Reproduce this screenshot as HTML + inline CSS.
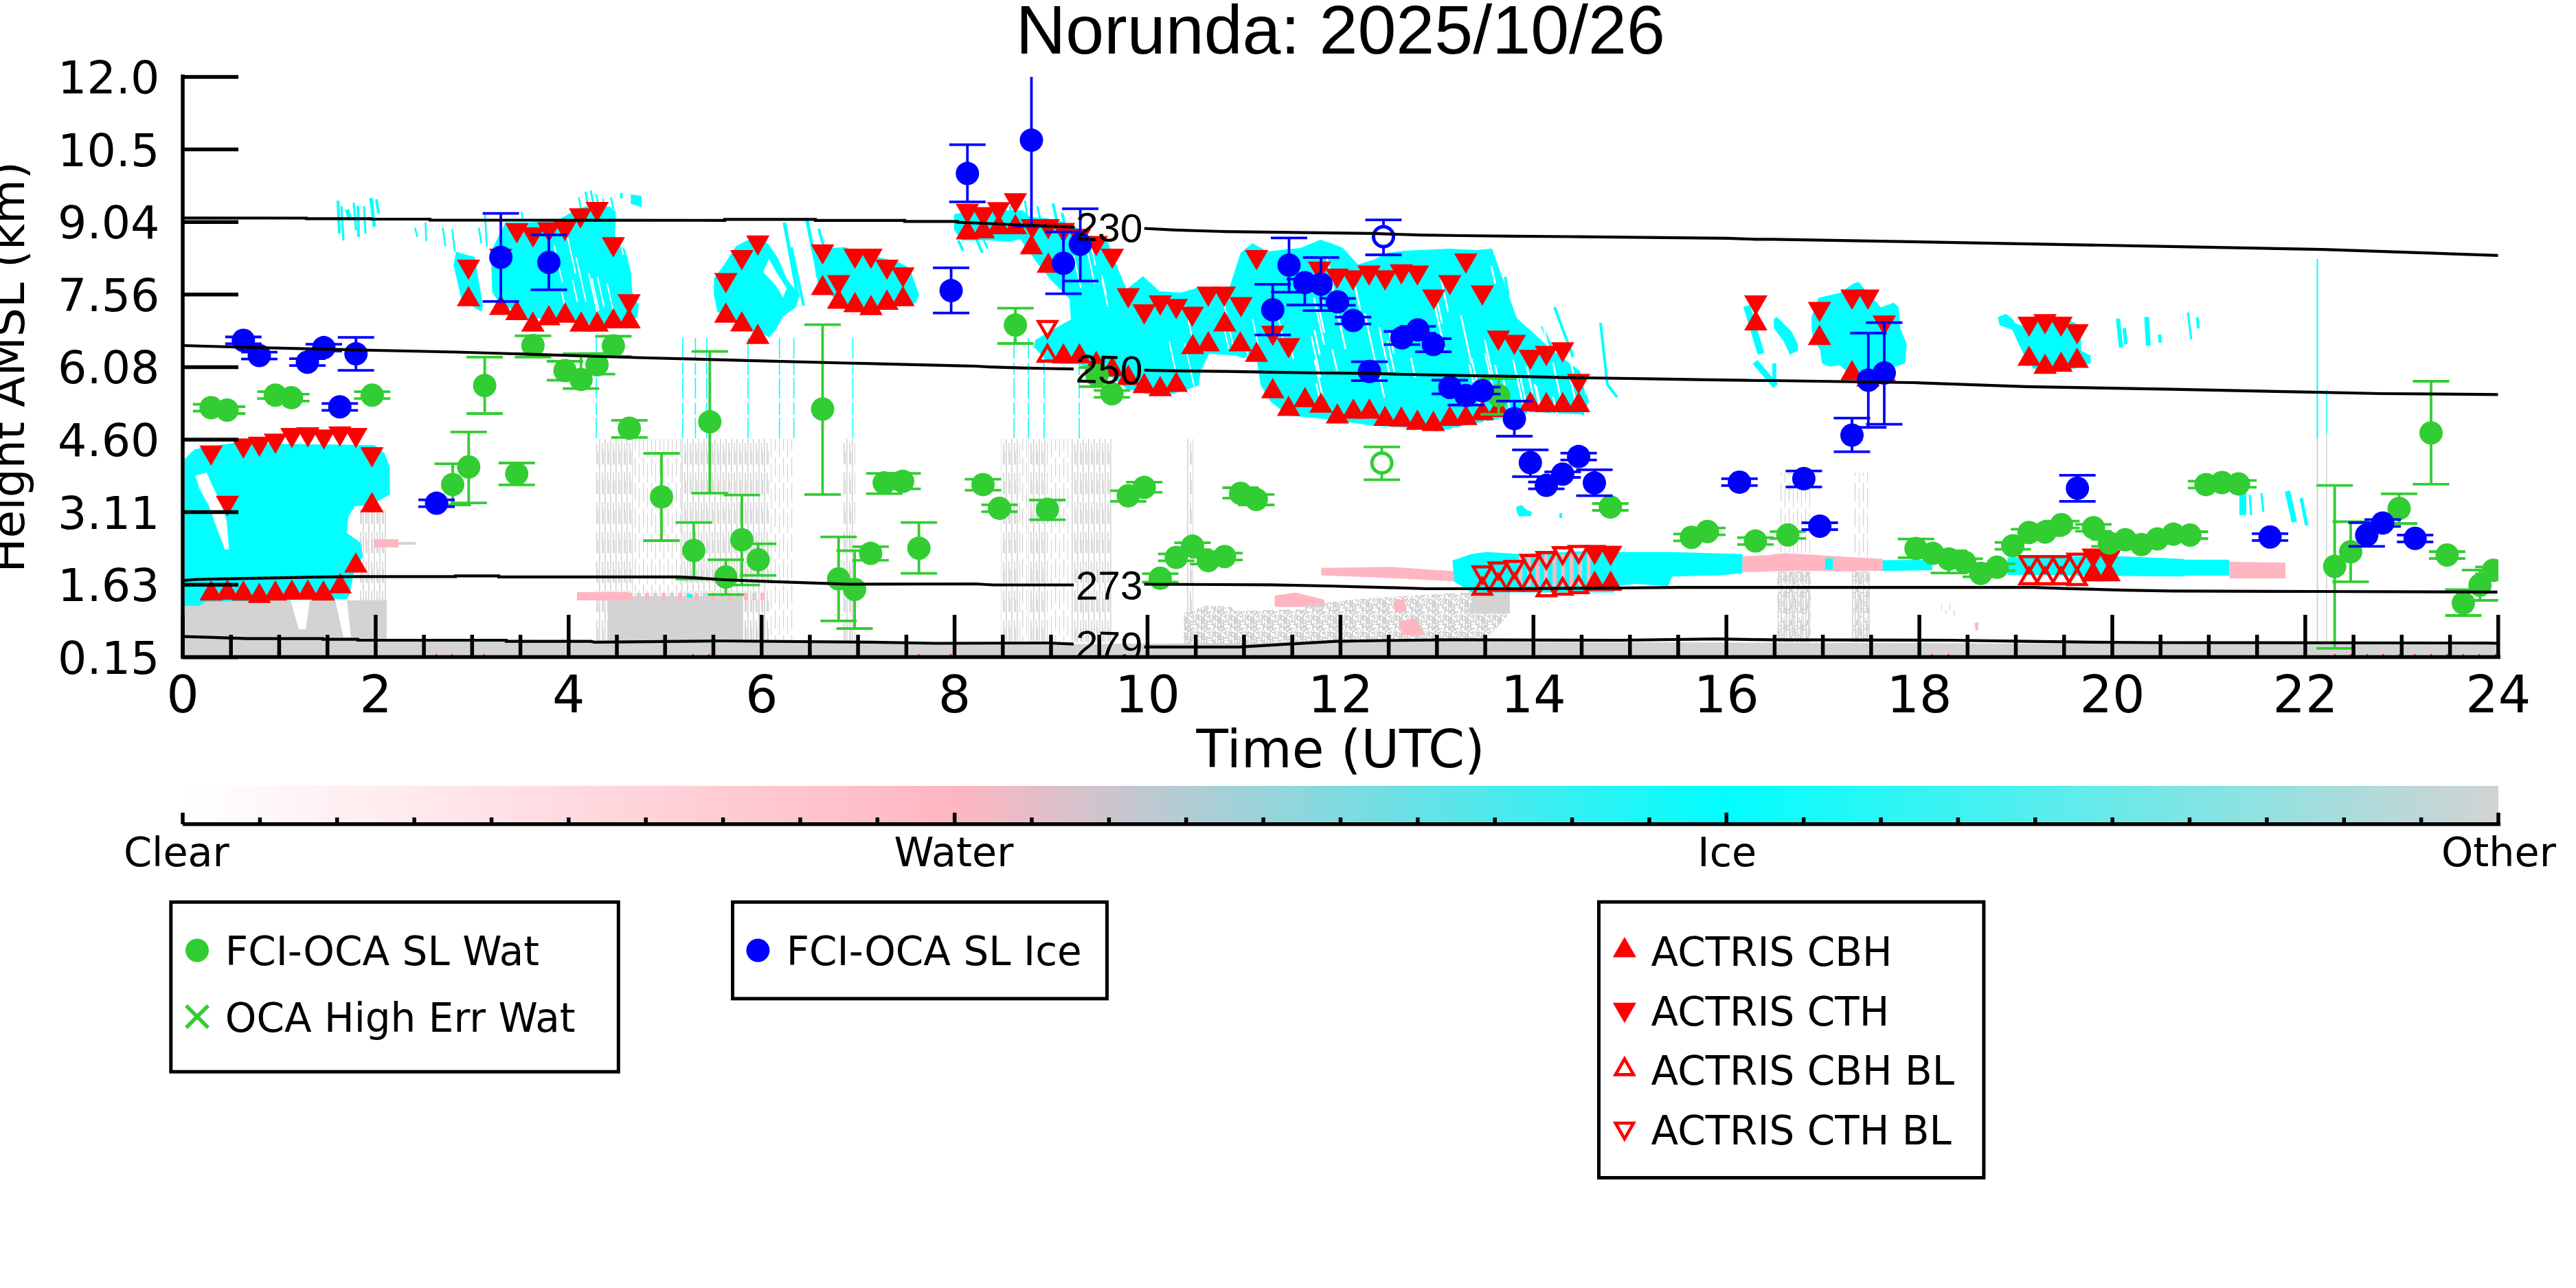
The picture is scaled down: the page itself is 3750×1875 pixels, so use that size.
<!DOCTYPE html>
<html><head><meta charset="utf-8"><style>
html,body{margin:0;padding:0;background:#fff;width:3750px;height:1875px}
svg{display:block}
</style></head><body>
<svg width="3750" height="1875" viewBox="0 0 3750 1875">
<rect width="3750" height="1875" fill="#fff"/>
<defs><clipPath id="plotclip"><rect x="266" y="112" width="3371" height="845"/></clipPath></defs>
<defs>
<pattern id="gs" width="8" height="43" patternUnits="userSpaceOnUse"><rect x="0" y="0" width="1.6" height="43" fill="#d3d3d3"/><rect x="4" y="0" width="1.6" height="31" fill="#d3d3d3"/><rect x="6" y="12" width="1" height="20" fill="#d3d3d3"/></pattern>
<pattern id="gs2" width="12" height="37" patternUnits="userSpaceOnUse"><rect x="0" y="0" width="1.3" height="27" fill="#d3d3d3"/><rect x="6" y="8" width="1" height="29" fill="#d3d3d3"/></pattern>
<pattern id="sp" width="24" height="24" patternUnits="userSpaceOnUse"><g fill="#d3d3d3"><rect x="0" y="0" width="2" height="2"/><rect x="0" y="2" width="2" height="2"/><rect x="0" y="6" width="2" height="2"/><rect x="0" y="8" width="2" height="2"/><rect x="0" y="10" width="2" height="2"/><rect x="0" y="12" width="2" height="2"/><rect x="0" y="14" width="2" height="2"/><rect x="0" y="16" width="2" height="2"/><rect x="0" y="18" width="2" height="2"/><rect x="0" y="20" width="2" height="2"/><rect x="0" y="22" width="2" height="2"/><rect x="2" y="0" width="2" height="2"/><rect x="2" y="4" width="2" height="2"/><rect x="2" y="6" width="2" height="2"/><rect x="2" y="14" width="2" height="2"/><rect x="2" y="18" width="2" height="2"/><rect x="2" y="22" width="2" height="2"/><rect x="4" y="0" width="2" height="2"/><rect x="4" y="2" width="2" height="2"/><rect x="4" y="4" width="2" height="2"/><rect x="4" y="8" width="2" height="2"/><rect x="4" y="14" width="2" height="2"/><rect x="4" y="16" width="2" height="2"/><rect x="4" y="18" width="2" height="2"/><rect x="4" y="20" width="2" height="2"/><rect x="4" y="22" width="2" height="2"/><rect x="6" y="2" width="2" height="2"/><rect x="6" y="4" width="2" height="2"/><rect x="6" y="8" width="2" height="2"/><rect x="6" y="10" width="2" height="2"/><rect x="6" y="16" width="2" height="2"/><rect x="6" y="20" width="2" height="2"/><rect x="8" y="2" width="2" height="2"/><rect x="8" y="6" width="2" height="2"/><rect x="8" y="8" width="2" height="2"/><rect x="8" y="12" width="2" height="2"/><rect x="8" y="14" width="2" height="2"/><rect x="8" y="16" width="2" height="2"/><rect x="10" y="2" width="2" height="2"/><rect x="10" y="10" width="2" height="2"/><rect x="10" y="16" width="2" height="2"/><rect x="10" y="20" width="2" height="2"/><rect x="12" y="6" width="2" height="2"/><rect x="12" y="8" width="2" height="2"/><rect x="12" y="12" width="2" height="2"/><rect x="12" y="14" width="2" height="2"/><rect x="12" y="16" width="2" height="2"/><rect x="12" y="18" width="2" height="2"/><rect x="12" y="20" width="2" height="2"/><rect x="14" y="0" width="2" height="2"/><rect x="14" y="2" width="2" height="2"/><rect x="14" y="4" width="2" height="2"/><rect x="14" y="8" width="2" height="2"/><rect x="14" y="10" width="2" height="2"/><rect x="14" y="12" width="2" height="2"/><rect x="14" y="20" width="2" height="2"/><rect x="14" y="22" width="2" height="2"/><rect x="16" y="0" width="2" height="2"/><rect x="16" y="6" width="2" height="2"/><rect x="16" y="8" width="2" height="2"/><rect x="16" y="10" width="2" height="2"/><rect x="16" y="12" width="2" height="2"/><rect x="16" y="14" width="2" height="2"/><rect x="16" y="18" width="2" height="2"/><rect x="16" y="20" width="2" height="2"/><rect x="16" y="22" width="2" height="2"/><rect x="18" y="0" width="2" height="2"/><rect x="18" y="8" width="2" height="2"/><rect x="18" y="14" width="2" height="2"/><rect x="20" y="0" width="2" height="2"/><rect x="20" y="2" width="2" height="2"/><rect x="20" y="4" width="2" height="2"/><rect x="20" y="8" width="2" height="2"/><rect x="20" y="10" width="2" height="2"/><rect x="20" y="12" width="2" height="2"/><rect x="20" y="14" width="2" height="2"/><rect x="20" y="16" width="2" height="2"/><rect x="20" y="18" width="2" height="2"/><rect x="20" y="20" width="2" height="2"/><rect x="20" y="22" width="2" height="2"/><rect x="22" y="0" width="2" height="2"/><rect x="22" y="2" width="2" height="2"/><rect x="22" y="4" width="2" height="2"/><rect x="22" y="10" width="2" height="2"/><rect x="22" y="12" width="2" height="2"/><rect x="22" y="14" width="2" height="2"/><rect x="22" y="16" width="2" height="2"/><rect x="22" y="18" width="2" height="2"/></g></pattern>
<pattern id="sp2" width="24" height="24" patternUnits="userSpaceOnUse"><g fill="#d3d3d3"><rect x="0" y="4" width="2" height="2"/><rect x="0" y="6" width="2" height="2"/><rect x="0" y="10" width="2" height="2"/><rect x="0" y="14" width="2" height="2"/><rect x="0" y="16" width="2" height="2"/><rect x="0" y="22" width="2" height="2"/><rect x="2" y="2" width="2" height="2"/><rect x="2" y="12" width="2" height="2"/><rect x="2" y="16" width="2" height="2"/><rect x="4" y="2" width="2" height="2"/><rect x="4" y="16" width="2" height="2"/><rect x="4" y="22" width="2" height="2"/><rect x="6" y="0" width="2" height="2"/><rect x="6" y="2" width="2" height="2"/><rect x="6" y="4" width="2" height="2"/><rect x="6" y="20" width="2" height="2"/><rect x="6" y="22" width="2" height="2"/><rect x="8" y="0" width="2" height="2"/><rect x="8" y="2" width="2" height="2"/><rect x="8" y="16" width="2" height="2"/><rect x="10" y="4" width="2" height="2"/><rect x="10" y="22" width="2" height="2"/><rect x="12" y="0" width="2" height="2"/><rect x="12" y="2" width="2" height="2"/><rect x="12" y="8" width="2" height="2"/><rect x="12" y="20" width="2" height="2"/><rect x="12" y="22" width="2" height="2"/><rect x="14" y="14" width="2" height="2"/><rect x="14" y="16" width="2" height="2"/><rect x="14" y="18" width="2" height="2"/><rect x="14" y="20" width="2" height="2"/><rect x="16" y="0" width="2" height="2"/><rect x="16" y="4" width="2" height="2"/><rect x="18" y="2" width="2" height="2"/><rect x="18" y="6" width="2" height="2"/><rect x="18" y="8" width="2" height="2"/><rect x="18" y="12" width="2" height="2"/><rect x="20" y="4" width="2" height="2"/><rect x="20" y="8" width="2" height="2"/><rect x="20" y="10" width="2" height="2"/><rect x="22" y="22" width="2" height="2"/></g></pattern>
</defs>
<path d="M266.0 938.0L560.0 930.0L1000.0 934.0L1500.0 938.0L1800.0 936.0L2000.0 934.0L2400.0 935.0L2700.0 936.0L3000.0 937.0L3637.0 938.0L3637.0 956.0L266.0 956.0Z" fill="#d3d3d3"/>
<path d="M268.0 874.0L563.0 874.0L563.0 956.0L268.0 956.0Z" fill="#d3d3d3"/>
<path d="M522.0 741.0L563.0 741.0L563.0 874.0L522.0 874.0Z" fill="url(#gs)"/>
<path d="M423.0 874.0L451.0 874.0L445.0 916.0L435.0 916.0Z" fill="#fff"/>
<path d="M488.0 874.0L505.0 874.0L511.0 928.0L500.0 928.0Z" fill="#fff"/>
<path d="M269.0 668.0L283.0 654.0L300.0 651.0L339.0 645.0L545.0 648.0L560.0 660.0L567.5 680.0L567.5 720.0L540.0 735.0L516.0 737.0L507.0 753.0L505.0 776.0L525.0 790.0L528.0 810.0L515.0 835.0L509.0 865.0L505.0 872.0L300.0 876.0L290.0 882.0L269.0 882.0Z" fill="#00ffff"/>
<path d="M284.5 692.6L300.8 688.0L308.9 706.6L320.6 729.9L329.9 757.8L333.4 799.8L327.5 799.8L315.9 769.5L304.3 736.9L290.3 711.2Z" fill="#fff"/>
<path d="M545.0 785.0L580.0 785.0L580.0 797.0L545.0 797.0Z" fill="#ffb6c1"/>
<path d="M580.0 789.0L605.0 789.0L605.0 793.0L580.0 793.0Z" fill="#d3d3d3"/>
<path d="M735.8 323.7L770.8 323.7L813.5 319.9L832.9 308.2L852.3 300.5L871.7 302.4L887.2 300.5L896.9 308.2L895.0 343.1L910.5 364.5L918.3 395.5L920.2 424.7L929.9 444.1L928.0 461.5L910.5 469.3L842.6 471.2L794.1 463.5L765.0 463.5L751.4 455.7L735.8 444.1L726.1 440.2L716.4 424.7L714.5 366.4Z" fill="#00ffff"/>
<path d="M660.2 385.8L664.0 366.4L691.2 374.2L702.9 444.1L700.9 453.8L671.8 436.3Z" fill="#00ffff"/>
<path d="M603.9 331.5L607.8 345.1" stroke="#00ffff" stroke-width="2.5" stroke-linecap="butt" fill="none"/>
<path d="M619.4 323.7L620.4 350.9" stroke="#00ffff" stroke-width="2.5" stroke-linecap="butt" fill="none"/>
<path d="M644.6 331.5L648.5 358.7" stroke="#00ffff" stroke-width="2.5" stroke-linecap="butt" fill="none"/>
<path d="M658.2 333.4L662.1 366.4" stroke="#00ffff" stroke-width="2.5" stroke-linecap="butt" fill="none"/>
<path d="M697.0 331.5L700.9 354.8" stroke="#00ffff" stroke-width="2.5" stroke-linecap="butt" fill="none"/>
<path d="M705.8 308.2L708.7 358.7" stroke="#00ffff" stroke-width="2.5" stroke-linecap="butt" fill="none"/>
<path d="M759.1 308.2L761.1 319.9" stroke="#00ffff" stroke-width="2.5" stroke-linecap="butt" fill="none"/>
<path d="M902.7 281.0L906.6 281.0L906.6 288.8L902.7 288.8Z" fill="#00ffff"/>
<path d="M842.6 286.9L846.5 308.2" stroke="#00ffff" stroke-width="2.5616145934407144" stroke-linecap="butt" fill="none"/>
<path d="M852.3 279.1L856.2 300.5" stroke="#00ffff" stroke-width="2.988550359014167" stroke-linecap="butt" fill="none"/>
<path d="M860.0 277.2L863.9 296.6" stroke="#00ffff" stroke-width="2.988550359014167" stroke-linecap="butt" fill="none"/>
<path d="M867.8 283.0L871.7 300.5" stroke="#00ffff" stroke-width="2.5616145934407144" stroke-linecap="butt" fill="none"/>
<path d="M877.5 288.8L880.4 304.3" stroke="#00ffff" stroke-width="2.1346788278672624" stroke-linecap="butt" fill="none"/>
<path d="M889.2 286.9L893.0 304.3" stroke="#00ffff" stroke-width="2.5616145934407144" stroke-linecap="butt" fill="none"/>
<path d="M492.0 292.0L494.0 340.0" stroke="#00ffff" stroke-width="4" stroke-linecap="butt" fill="none"/>
<path d="M497.0 300.0L500.0 350.0" stroke="#00ffff" stroke-width="3" stroke-linecap="butt" fill="none"/>
<path d="M515.0 295.0L518.0 335.0" stroke="#00ffff" stroke-width="3" stroke-linecap="butt" fill="none"/>
<path d="M521.0 300.0L522.0 345.0" stroke="#00ffff" stroke-width="4" stroke-linecap="butt" fill="none"/>
<path d="M530.0 300.0L532.0 340.0" stroke="#00ffff" stroke-width="3" stroke-linecap="butt" fill="none"/>
<path d="M540.0 288.0L545.0 330.0" stroke="#00ffff" stroke-width="5" stroke-linecap="butt" fill="none"/>
<path d="M548.0 290.0L551.0 310.0" stroke="#00ffff" stroke-width="4" stroke-linecap="butt" fill="none"/>
<path d="M505.0 305.0L510.0 320.0" stroke="#00ffff" stroke-width="6" stroke-linecap="butt" fill="none"/>
<path d="M918.3 283.0L933.8 284.9L933.8 301.4L918.3 296.6Z" fill="#00ffff"/>
<path d="M1039.3 405.9L1056.4 382.0L1071.7 358.1L1102.5 342.7L1119.6 356.4L1133.2 376.9L1145.2 405.9L1164.0 429.8L1158.9 446.9L1140.1 460.6L1129.8 479.3L1119.6 491.3L1102.5 481.1L1088.8 481.1L1073.4 469.1L1044.4 453.7L1039.3 429.8Z" fill="#00ffff"/>
<path d="M1111.0 395.7L1119.6 376.9L1129.8 395.7L1145.2 419.6L1140.0 433.2L1129.8 416.2Z" fill="#fff"/>
<path d="M1141.8 324.0L1162.0 433.0" stroke="#00ffff" stroke-width="5" stroke-linecap="butt" fill="none"/>
<path d="M1174.0 317.0L1194.0 415.0" stroke="#00ffff" stroke-width="5" stroke-linecap="butt" fill="none"/>
<path d="M1192.0 333.0L1210.0 400.0" stroke="#00ffff" stroke-width="4" stroke-linecap="butt" fill="none"/>
<path d="M1152.0 360.0L1170.0 445.0" stroke="#00ffff" stroke-width="4" stroke-linecap="butt" fill="none"/>
<path d="M1182.8 363.2L1228.9 359.8L1281.8 375.2L1305.8 380.3L1324.5 390.5L1329.7 405.9L1338.2 429.8L1333.1 440.0L1324.5 445.2L1256.2 446.9L1222.0 440.0L1210.0 429.8L1187.9 402.5Z" fill="#00ffff"/>
<path d="M1389.0 312.0L1420.0 306.0L1461.0 306.0L1488.0 306.0L1500.0 316.0L1525.0 318.0L1545.0 322.0L1565.0 330.0L1590.0 344.0L1613.0 353.0L1627.0 390.0L1640.0 421.0L1664.0 402.0L1688.0 424.0L1719.0 426.0L1743.0 419.0L1790.0 418.0L1806.0 368.0L1823.0 354.0L1845.0 366.0L1893.0 361.0L1922.0 349.0L1938.0 354.0L1955.0 361.0L1977.0 385.0L2000.0 378.0L2020.0 368.0L2044.0 365.0L2110.0 362.0L2150.0 364.0L2172.0 362.0L2208.0 463.0L2260.0 510.0L2300.0 540.0L2313.0 584.0L2305.0 605.0L2300.0 603.0L2230.0 600.0L2180.0 610.0L2130.0 620.0L2090.0 628.0L2040.0 622.0L2000.0 620.0L1930.0 610.0L1876.0 605.0L1850.0 585.0L1835.0 560.0L1830.0 527.0L1800.0 518.0L1760.0 515.0L1748.0 540.0L1745.0 561.0L1720.0 570.0L1690.0 577.0L1666.0 573.0L1640.0 566.0L1620.0 550.0L1598.0 545.0L1571.0 530.0L1548.0 530.0L1527.0 528.0L1505.0 505.0L1507.0 495.0L1543.0 474.0L1559.0 465.0L1557.0 435.0L1531.0 409.0L1510.0 383.0L1485.0 348.0L1470.0 352.0L1440.0 350.0L1400.0 350.0L1389.0 335.0Z" fill="#00ffff"/>
<path d="M1395.0 350.0L1402.0 365.0" stroke="#00ffff" stroke-width="4" stroke-linecap="butt" fill="none"/>
<path d="M1420.0 345.0L1430.0 368.0" stroke="#00ffff" stroke-width="4" stroke-linecap="butt" fill="none"/>
<path d="M1432.0 350.0L1438.0 362.0" stroke="#00ffff" stroke-width="3" stroke-linecap="butt" fill="none"/>
<path d="M1470.0 300.0L1474.0 318.0" stroke="#00ffff" stroke-width="3" stroke-linecap="butt" fill="none"/>
<path d="M1492.0 292.0L1495.0 312.0" stroke="#00ffff" stroke-width="3" stroke-linecap="butt" fill="none"/>
<path d="M1510.0 300.0L1514.0 318.0" stroke="#00ffff" stroke-width="3" stroke-linecap="butt" fill="none"/>
<path d="M1533.0 296.0L1540.0 330.0" stroke="#00ffff" stroke-width="4" stroke-linecap="butt" fill="none"/>
<path d="M1546.0 310.0L1552.0 335.0" stroke="#00ffff" stroke-width="4" stroke-linecap="butt" fill="none"/>
<rect x="866.5" y="639.0" width="54.5" height="296.0" fill="url(#gs)"/>
<rect x="921.0" y="639.0" width="70.0" height="296.0" fill="url(#gs2)"/>
<rect x="991.0" y="639.0" width="128.0" height="296.0" fill="url(#gs)"/>
<rect x="1119.0" y="639.0" width="37.0" height="296.0" fill="url(#gs2)"/>
<rect x="1228.0" y="639.0" width="17.0" height="296.0" fill="url(#gs)"/>
<rect x="1457.0" y="639.0" width="28.0" height="296.0" fill="url(#gs)"/>
<rect x="1485.0" y="639.0" width="12.0" height="296.0" fill="url(#gs2)"/>
<rect x="1497.0" y="639.0" width="28.0" height="296.0" fill="url(#gs)"/>
<rect x="1525.0" y="639.0" width="35.0" height="296.0" fill="url(#gs2)"/>
<rect x="1560.0" y="639.0" width="58.0" height="296.0" fill="url(#gs)"/>
<rect x="1727.0" y="639.0" width="10.0" height="296.0" fill="url(#gs)"/>
<rect x="2587.0" y="688.0" width="49.0" height="247.0" fill="url(#gs2)"/>
<rect x="2696.0" y="688.0" width="26.0" height="247.0" fill="url(#gs2)"/>
<rect x="2587.0" y="832.0" width="49.0" height="103.0" fill="url(#gs)"/>
<rect x="2587.0" y="832.0" width="49.0" height="103.0" fill="url(#sp2)"/>
<rect x="2696.0" y="832.0" width="26.0" height="103.0" fill="url(#gs)"/>
<rect x="2696.0" y="832.0" width="26.0" height="103.0" fill="url(#sp2)"/>
<rect x="884.7" y="868.0" width="195.3" height="67.0" fill="#d3d3d3"/>
<rect x="1080.0" y="874.0" width="39.0" height="61.0" fill="url(#gs)"/>
<rect x="840.0" y="862.0" width="75.0" height="12.0" fill="#ffb6c1"/>
<rect x="915.0" y="863.0" width="6.0" height="11.0" fill="#ffb6c1"/>
<rect x="927.0" y="863.0" width="6.0" height="11.0" fill="#d3d3d3"/>
<rect x="939.0" y="863.0" width="6.0" height="11.0" fill="#ffb6c1"/>
<rect x="951.0" y="863.0" width="6.0" height="11.0" fill="#d3d3d3"/>
<rect x="963.0" y="863.0" width="6.0" height="11.0" fill="#ffb6c1"/>
<rect x="975.0" y="863.0" width="6.0" height="11.0" fill="#d3d3d3"/>
<rect x="987.0" y="863.0" width="6.0" height="11.0" fill="#ffb6c1"/>
<rect x="999.0" y="863.0" width="6.0" height="11.0" fill="#d3d3d3"/>
<rect x="1011.0" y="863.0" width="6.0" height="11.0" fill="#ffb6c1"/>
<rect x="1023.0" y="863.0" width="6.0" height="11.0" fill="#d3d3d3"/>
<rect x="1035.0" y="863.0" width="6.0" height="11.0" fill="#ffb6c1"/>
<rect x="1047.0" y="863.0" width="6.0" height="11.0" fill="#d3d3d3"/>
<rect x="1059.0" y="863.0" width="6.0" height="11.0" fill="#ffb6c1"/>
<rect x="1071.0" y="863.0" width="6.0" height="11.0" fill="#d3d3d3"/>
<rect x="1083.0" y="863.0" width="6.0" height="11.0" fill="#ffb6c1"/>
<rect x="1095.0" y="863.0" width="6.0" height="11.0" fill="#d3d3d3"/>
<rect x="1107.0" y="863.0" width="6.0" height="11.0" fill="#ffb6c1"/>
<rect x="1000.0" y="865.0" width="8.0" height="5.0" fill="#00ffff"/>
<path d="M868 492V640" stroke="#00ffff" stroke-width="1.6" stroke-dasharray="30 6 18 4"/>
<path d="M993.7 492V640" stroke="#00ffff" stroke-width="1.6" stroke-dasharray="30 6 18 4"/>
<path d="M1012.4 492V640" stroke="#00ffff" stroke-width="1.6" stroke-dasharray="30 6 18 4"/>
<path d="M1028.7 492V640" stroke="#00ffff" stroke-width="1.6" stroke-dasharray="30 6 18 4"/>
<path d="M1089 492V640" stroke="#00ffff" stroke-width="1.6" stroke-dasharray="30 6 18 4"/>
<path d="M1134.7 492V640" stroke="#00ffff" stroke-width="1.6" stroke-dasharray="30 6 18 4"/>
<path d="M1155.6 492V640" stroke="#00ffff" stroke-width="1.6" stroke-dasharray="30 6 18 4"/>
<path d="M1241.5 492V640" stroke="#00ffff" stroke-width="1.6" stroke-dasharray="30 6 18 4"/>
<path d="M1476 492V640" stroke="#00ffff" stroke-width="1.6" stroke-dasharray="30 6 18 4"/>
<path d="M1497 492V640" stroke="#00ffff" stroke-width="1.6" stroke-dasharray="30 6 18 4"/>
<path d="M1520 492V640" stroke="#00ffff" stroke-width="1.6" stroke-dasharray="30 6 18 4"/>
<path d="M1571 492V640" stroke="#00ffff" stroke-width="1.6" stroke-dasharray="30 6 18 4"/>
<path d="M3373.5 377.0L3373.5 638.0" stroke="#00ffff" stroke-width="2" stroke-linecap="butt" fill="none"/>
<path d="M3373.5 638.0L3373.5 935.0" stroke="#d3d3d3" stroke-width="2" stroke-linecap="butt" fill="none"/>
<path d="M3387.0 567.0L3387.0 632.0" stroke="#00ffff" stroke-width="1.5" stroke-linecap="butt" fill="none"/>
<path d="M3387.0 632.0L3387.0 935.0" stroke="#d3d3d3" stroke-width="1.5" stroke-linecap="butt" fill="none"/>
<path d="M1722.8 892.9L1757.7 881.3L1792.7 883.6L1797.3 889.4L1885.8 887.1L1955.7 890.6L2020.0 892.9L2020.0 939.5L1722.8 939.5Z" fill="url(#sp)"/>
<path d="M1757.0 905.0L1850.0 900.0L2000.0 905.0L2000.0 935.0L1757.0 935.0Z" fill="url(#sp)"/>
<path d="M1855.6 867.3L1885.8 862.6L1927.8 873.1L1927.8 883.6L1855.6 883.6Z" fill="#ffb6c1"/>
<path d="M1900.0 880.0L2000.0 870.0L2148.0 862.0L2198.0 862.0L2198.0 893.0L2160.0 935.0L1900.0 935.0Z" fill="url(#sp)"/>
<path d="M2000.0 900.0L2160.0 895.0L2140.0 935.0L2000.0 935.0Z" fill="url(#sp)"/>
<rect x="2142.0" y="862.0" width="56.0" height="31.0" fill="#d3d3d3"/>
<path d="M2030.0 875.0L2045.0 872.0L2048.0 890.0L2030.0 892.0Z" fill="#ffb6c1"/>
<path d="M2037.0 905.0L2060.0 900.0L2075.0 925.0L2040.0 925.0Z" fill="#ffb6c1"/>
<path d="M1923.3 826.8L2024.2 825.2L2117.4 831.4L2142.2 834.5L2142.2 847.0L2117.4 846.3L2024.2 841.4L1923.3 837.6Z" fill="#ffb6c1"/>
<path d="M2114.3 815.9L2142.2 806.6L2164.0 803.5L2210.6 806.6L2350.3 800.4L2350.3 862.5L2142.2 862.5L2117.4 847.0Z" fill="#00ffff"/>
<rect x="2210.6" y="806.6" width="5.6" height="46.6" fill="#ffb6c1"/>
<rect x="2223.0" y="806.6" width="5.6" height="46.6" fill="#ffb6c1"/>
<rect x="2235.4" y="806.6" width="5.6" height="46.6" fill="#ffb6c1"/>
<rect x="2247.8" y="806.6" width="5.6" height="46.6" fill="#ffb6c1"/>
<rect x="2260.2" y="806.6" width="5.6" height="46.6" fill="#ffb6c1"/>
<rect x="2272.7" y="806.6" width="5.6" height="46.6" fill="#ffb6c1"/>
<rect x="2285.1" y="806.6" width="5.6" height="46.6" fill="#ffb6c1"/>
<rect x="2297.5" y="806.6" width="5.6" height="46.6" fill="#ffb6c1"/>
<rect x="2309.9" y="806.6" width="5.6" height="46.6" fill="#ffb6c1"/>
<path d="M2350.3 803.5L2428.0 803.5L2536.6 806.6L2536.6 834.5L2502.5 837.6L2434.2 839.2L2428.0 853.2L2381.4 850.1L2350.3 853.2Z" fill="#00ffff"/>
<path d="M2536.6 809.7L2614.3 806.6L2700.0 814.3L2700.0 832.0L2614.3 830.8L2536.6 833.0Z" fill="#ffb6c1"/>
<path d="M2657.8 814.3L2667.1 814.3L2667.1 828.3L2657.8 828.3Z" fill="#00ffff"/>
<path d="M2191.0 403.0L2196.0 430.0" stroke="#00ffff" stroke-width="4" stroke-linecap="butt" fill="none"/>
<path d="M2196.0 445.0L2215.0 510.0" stroke="#00ffff" stroke-width="4" stroke-linecap="butt" fill="none"/>
<path d="M2245.0 475.0L2265.0 520.0" stroke="#00ffff" stroke-width="4" stroke-linecap="butt" fill="none"/>
<path d="M2263.0 447.0L2290.0 520.0" stroke="#00ffff" stroke-width="4" stroke-linecap="butt" fill="none"/>
<path d="M2330.0 470.0L2340.0 560.0" stroke="#00ffff" stroke-width="4" stroke-linecap="butt" fill="none"/>
<path d="M2340.0 560.0L2354.0 578.0" stroke="#00ffff" stroke-width="4" stroke-linecap="butt" fill="none"/>
<path d="M2542.6 445.2L2563.7 515.1" stroke="#00ffff" stroke-width="10" stroke-linecap="butt" fill="none"/>
<path d="M2555.0 527.0L2585.0 562.0" stroke="#00ffff" stroke-width="9" stroke-linecap="butt" fill="none"/>
<path d="M2637.1 461.5L2647.5 433.6L2677.8 426.6L2698.8 412.6L2705.8 410.3L2715.1 421.9L2738.4 447.5L2757.0 440.6L2764.0 447.5L2766.3 477.8L2775.7 501.1L2773.3 529.1L2759.3 533.7L2743.0 538.4L2719.8 543.0L2696.5 547.7L2677.8 531.4L2663.9 533.7L2652.2 529.1L2649.9 510.4L2639.4 491.8L2637.1 477.8Z" fill="#00ffff"/>
<path d="M2582.3 463.9L2587.0 461.5L2608.0 482.5L2617.3 501.1L2617.3 510.4L2605.6 516.3L2596.3 496.5L2582.3 477.8Z" fill="#00ffff"/>
<path d="M2580.0 529.1L2585.8 529.1L2585.8 552.4L2580.0 552.4Z" fill="#00ffff"/>
<path d="M2908.4 461.5L2920.1 456.9L2929.4 463.9L2934.0 470.8L2952.7 477.8L2964.3 468.5L2976.0 463.9L2999.3 461.5L3022.6 470.8L3029.5 484.8L3029.5 510.4L3043.5 517.4L3043.5 529.1L3034.2 531.4L3022.6 536.1L2994.6 540.7L2976.0 543.0L2959.7 536.1L2948.0 519.8L2938.7 501.1L2929.4 480.2L2910.7 473.2Z" fill="#00ffff"/>
<path d="M3083.1 463.9L3087.8 505.8" stroke="#00ffff" stroke-width="6" stroke-linecap="butt" fill="none"/>
<path d="M3092.4 477.8L3094.8 501.1" stroke="#00ffff" stroke-width="5" stroke-linecap="butt" fill="none"/>
<path d="M3125.0 461.5L3127.4 503.4" stroke="#00ffff" stroke-width="7" stroke-linecap="butt" fill="none"/>
<path d="M3143.7 487.1L3144.8 498.8" stroke="#00ffff" stroke-width="5" stroke-linecap="butt" fill="none"/>
<path d="M2580.0 806.7L2603.3 805.6L2740.7 813.7L2740.7 831.2L2580.0 828.9Z" fill="#ffb6c1"/>
<path d="M2656.9 812.6L2668.0 812.6L2668.0 828.9L2656.9 828.9Z" fill="#00ffff"/>
<path d="M2740.7 815.6L2812.9 814.9L2812.9 830.0L2740.7 831.2Z" fill="#00ffff"/>
<path d="M2922.4 811.4L3069.1 809.1L3180.0 813.7L3180.0 839.3L3069.1 838.2L2922.4 837.0Z" fill="#00ffff"/>
<path d="M3160.0 814.8L3245.4 814.8L3245.4 838.0L3160.0 838.0Z" fill="#00ffff"/>
<path d="M3245.4 817.7L3327.0 819.0L3327.0 842.0L3245.4 842.0Z" fill="#ffb6c1"/>
<path d="M3260.0 718.0L3270.0 718.0L3270.0 750.0L3260.0 750.0Z" fill="#00ffff"/>
<path d="M3275.0 720.0L3277.0 750.0" stroke="#00ffff" stroke-width="3" stroke-linecap="butt" fill="none"/>
<path d="M3292.0 718.0L3295.0 745.0" stroke="#00ffff" stroke-width="3" stroke-linecap="butt" fill="none"/>
<path d="M3330.0 715.0L3340.0 760.0" stroke="#00ffff" stroke-width="8" stroke-linecap="butt" fill="none"/>
<path d="M3350.0 725.0L3358.0 765.0" stroke="#00ffff" stroke-width="5" stroke-linecap="butt" fill="none"/>
<path d="M3185.0 455.0L3190.0 494.0" stroke="#00ffff" stroke-width="3" stroke-linecap="butt" fill="none"/>
<path d="M3199.0 462.0L3200.0 478.0" stroke="#00ffff" stroke-width="4" stroke-linecap="butt" fill="none"/>
<path d="M2824.6 878.9L2847.9 876.6L2847.9 897.6L2824.6 892.9Z" fill="url(#gs2)"/>
<path d="M2874.6 906.9L2880.5 905.7L2879.3 918.5L2875.8 917.4Z" fill="#ffb6c1"/>
<path d="M2007.6 476.4l14.6 66.6 M2022.0 481.6l7.3 33.3 M2053.8 520.7l6.4 29.2 M1913.6 523.8l12.4 56.2 M2145.4 553.3l12.0 54.4 M1930.9 372.9l10.7 48.8 M1939.5 416.0l5.8 26.4 M2004.5 530.1l10.6 48.4 M2019.9 495.9l10.0 45.6 M2149.4 559.2l13.8 62.8 M1972.0 413.6l8.4 38.0 M2089.2 446.1l13.9 63.1 M2139.1 531.0l5.5 25.0 M2126.7 459.3l15.2 69.1 M1909.0 489.6l13.2 60.0 M1912.7 433.2l15.0 68.4 M1920.7 416.8l6.5 29.5 M2097.2 403.8l11.0 50.2 M1939.6 509.1l6.8 30.9 M1920.3 449.9l7.6 34.6 M2142.4 522.6l8.5 38.7 M1944.8 444.9l14.0 63.4 M1916.1 558.0l7.6 34.6 M2090.9 432.5l8.4 38.3 M1913.4 480.7l7.9 35.9 M1986.6 456.1l15.0 68.2 M2236.2 562.0l7.3 33.2 M2286.3 551.7l8.0 36.2 M2260.9 577.5l7.4 33.8 M2282.3 506.7l9.7 44.0 M2155.8 582.2l7.9 35.7 M2188.5 553.0l11.4 51.8 M2176.3 531.3l6.2 28.1 M2233.9 559.0l11.6 52.6 M2287.6 422.8l5.7 25.7 M2216.9 392.7l7.2 32.9 M2235.8 407.6l9.1 41.3 M2297.1 518.0l12.3 56.1 M2171.1 387.4l5.7 25.8 M2255.1 582.2l5.7 26.0 M2222.3 533.4l8.7 39.4 M2161.3 494.7l12.8 58.2 M2260.6 527.8l13.4 60.7 M2202.8 523.9l14.4 65.5 M2212.6 546.0l14.0 63.9 M2243.7 460.3l11.3 51.2 M2162.0 514.3l15.3 69.7 M2259.2 461.6l12.8 58.1" stroke="#fff" stroke-width="2.6" fill="none"/>
<path d="M1604.1 400.6l6.3 28.8 M1563.0 372.2l10.3 46.6 M1629.8 359.7l11.6 52.7 M1585.6 301.4l8.5 38.5 M1580.3 320.4l14.5 65.8 M1604.2 407.0l8.7 39.7 M1579.9 351.7l13.5 61.3 M1648.0 346.1l11.3 51.2 M1724.5 499.6l13.8 62.7 M1828.0 554.0l8.2 37.5 M1781.1 473.0l7.6 34.6 M1812.6 499.3l8.6 39.2 M1876.8 494.3l6.2 28.4 M1857.1 445.0l12.5 56.9 M1755.6 535.0l5.7 25.9 M1781.9 443.0l13.7 62.3 M1725.4 445.6l11.7 53.3 M1813.4 518.6l13.5 61.3 M1823.2 463.9l10.2 46.4 M1701.9 496.7l12.6 57.1 M825.4 341.9l12.4 56.4 M869.9 403.4l9.4 42.7 M907.8 303.1l14.7 67.0 M806.9 358.0l11.7 53.1 M839.0 375.3l14.2 64.6 M912.8 359.6l11.9 54.3 M883.9 412.8l11.9 53.9 M817.7 425.0l15.2 69.1 M859.8 408.6l8.7 39.4 M901.3 342.3l6.3 28.7 M861.5 405.2l10.3 46.9 M895.2 299.6l13.4 61.0 M833.6 408.2l6.9 31.3 M857.1 398.5l13.8 62.8" stroke="#fff" stroke-width="2" fill="none"/>
<path d="M2207.0 738.0L2215.0 735.0L2222.0 742.0L2230.0 745.0L2229.0 751.0L2212.0 752.0L2208.0 746.0Z" fill="#00ffff"/>
<rect x="2270.0" y="747.0" width="4.0" height="7.0" fill="#00ffff"/>
<g clip-path="url(#plotclip)"><g fill="#ff0000">
<path d="M665.0 378.0H699.0L682.0 407.5Z"/>
<path d="M735.4 324.9H769.4L752.4 354.4Z"/>
<path d="M759.0 331.0H793.0L776.0 360.5Z"/>
<path d="M782.0 323.7H816.0L799.0 353.2Z"/>
<path d="M805.6 321.8H839.6L822.6 351.3Z"/>
<path d="M828.0 303.2H862.0L845.0 332.7Z"/>
<path d="M852.2 294.1H886.2L869.2 323.6Z"/>
<path d="M875.9 345.2H909.9L892.9 374.7Z"/>
<path d="M898.8 428.3H932.8L915.8 457.8Z"/>
<path d="M712.0 362.0H746.0L729.0 391.5Z"/>
<path d="M290.3 648.5H324.3L307.3 678.0Z"/>
<path d="M337.3 638.2H371.3L354.3 667.7Z"/>
<path d="M360.6 635.8H394.6L377.6 665.3Z"/>
<path d="M383.9 631.2H417.9L400.9 660.7Z"/>
<path d="M407.9 623.0H441.9L424.9 652.5Z"/>
<path d="M431.2 621.9H465.2L448.2 651.4Z"/>
<path d="M454.5 625.3H488.5L471.5 654.8Z"/>
<path d="M477.8 620.7H511.8L494.8 650.2Z"/>
<path d="M501.1 623.0H535.1L518.1 652.5Z"/>
<path d="M524.4 651.0H558.4L541.4 680.5Z"/>
<path d="M314.0 721.7H348.0L331.0 751.2Z"/>
<path d="M1086.2 342.7H1120.2L1103.2 372.2Z"/>
<path d="M1062.9 363.9H1096.9L1079.9 393.4Z"/>
<path d="M1039.6 397.5H1073.6L1056.6 427.0Z"/>
<path d="M1180.5 355.8H1214.5L1197.5 385.3Z"/>
<path d="M1203.8 400.5H1237.8L1220.8 430.0Z"/>
<path d="M1227.6 362.0H1261.6L1244.6 391.5Z"/>
<path d="M1250.9 362.0H1284.9L1267.9 391.5Z"/>
<path d="M1274.2 377.9H1308.2L1291.2 407.4Z"/>
<path d="M1297.5 389.3H1331.5L1314.5 418.8Z"/>
<path d="M1391.3 296.8H1425.3L1408.3 326.3Z"/>
<path d="M1414.6 301.5H1448.6L1431.6 331.0Z"/>
<path d="M1461.2 281.2H1495.2L1478.2 310.7Z"/>
<path d="M1436.8 294.3H1470.8L1453.8 323.8Z"/>
<path d="M1485.7 319.0H1519.7L1502.7 348.5Z"/>
<path d="M1509.0 319.0H1543.0L1526.0 348.5Z"/>
<path d="M1531.1 324.5H1565.1L1548.1 354.0Z"/>
<path d="M1554.4 332.9H1588.4L1571.4 362.4Z"/>
<path d="M1578.9 343.4H1612.9L1595.9 372.9Z"/>
<path d="M1602.2 362.0H1636.2L1619.2 391.5Z"/>
<path d="M1812.2 363.9H1846.2L1829.2 393.4Z"/>
<path d="M1903.8 380.7H1937.8L1920.8 410.2Z"/>
<path d="M1929.4 391.0H1963.4L1946.4 420.5Z"/>
<path d="M1976.0 386.5H2010.0L1993.0 416.0Z"/>
<path d="M1625.4 419.6H1659.4L1642.4 449.1Z"/>
<path d="M1648.7 442.9H1682.7L1665.7 472.4Z"/>
<path d="M1672.0 430.0H1706.0L1689.0 459.5Z"/>
<path d="M1695.3 435.2H1729.3L1712.3 464.7Z"/>
<path d="M1718.6 446.4H1752.6L1735.6 475.9Z"/>
<path d="M1741.9 417.3H1775.9L1758.9 446.8Z"/>
<path d="M1765.2 417.3H1799.2L1782.2 446.8Z"/>
<path d="M1789.6 432.4H1823.6L1806.6 461.9Z"/>
<path d="M1835.8 474.3H1869.8L1852.8 503.8Z"/>
<path d="M1858.8 492.3H1892.8L1875.8 521.8Z"/>
<path d="M1952.7 393.6H1986.7L1969.7 423.1Z"/>
<path d="M1999.3 393.5H2033.3L2016.3 423.0Z"/>
<path d="M2023.0 384.7H2057.0L2040.0 414.2Z"/>
<path d="M2046.4 386.5H2080.4L2063.4 416.0Z"/>
<path d="M2116.9 369.0H2150.9L2133.9 398.5Z"/>
<path d="M2093.6 400.5H2127.6L2110.6 430.0Z"/>
<path d="M2070.3 421.5H2104.3L2087.3 451.0Z"/>
<path d="M2140.9 415.4H2174.9L2157.9 444.9Z"/>
<path d="M2164.2 481.3H2198.2L2181.2 510.8Z"/>
<path d="M2187.5 487.6H2221.5L2204.5 517.1Z"/>
<path d="M2210.8 509.3H2244.8L2227.8 538.8Z"/>
<path d="M2234.1 503.5H2268.1L2251.1 533.0Z"/>
<path d="M2257.8 498.3H2291.8L2274.8 527.8Z"/>
<path d="M2281.1 544.2H2315.1L2298.1 573.7Z"/>
<path d="M2539.0 430.1H2573.0L2556.0 459.6Z"/>
<path d="M2304.4 793.2H2338.4L2321.4 822.7Z"/>
<path d="M2327.7 794.6H2361.7L2344.7 824.1Z"/>
<path d="M2631.7 439.4H2665.7L2648.7 468.9Z"/>
<path d="M2679.0 421.5H2713.0L2696.0 451.0Z"/>
<path d="M2702.3 421.5H2736.3L2719.3 451.0Z"/>
<path d="M2726.0 459.2H2760.0L2743.0 488.7Z"/>
<path d="M2936.8 461.1H2970.8L2953.8 490.6Z"/>
<path d="M2960.1 457.3H2994.1L2977.1 486.8Z"/>
<path d="M2983.4 461.1H3017.4L3000.4 490.6Z"/>
<path d="M3006.7 472.0H3040.7L3023.7 501.5Z"/>
<path d="M3030.0 798.6H3064.0L3047.0 828.1Z"/>
<path d="M3053.3 801.0H3087.3L3070.3 830.5Z"/>
<path d="M665.0 445.8H699.0L682.0 416.3Z"/>
<path d="M712.0 458.5H746.0L729.0 429.0Z"/>
<path d="M735.4 466.0H769.4L752.4 436.5Z"/>
<path d="M758.7 482.7H792.7L775.7 453.2Z"/>
<path d="M782.0 473.4H816.0L799.0 443.9Z"/>
<path d="M805.6 469.7H839.6L822.6 440.2Z"/>
<path d="M829.0 482.7H863.0L846.0 453.2Z"/>
<path d="M852.2 482.7H886.2L869.2 453.2Z"/>
<path d="M875.9 478.0H909.9L892.9 448.5Z"/>
<path d="M898.8 478.0H932.8L915.8 448.5Z"/>
<path d="M524.4 745.7H558.4L541.4 716.2Z"/>
<path d="M501.0 833.5H535.0L518.0 804.0Z"/>
<path d="M478.2 863.8H512.2L495.2 834.3Z"/>
<path d="M453.8 874.3H487.8L470.8 844.8Z"/>
<path d="M431.2 873.0H465.2L448.2 843.5Z"/>
<path d="M407.9 873.0H441.9L424.9 843.5Z"/>
<path d="M383.9 874.3H417.9L400.9 844.8Z"/>
<path d="M360.6 877.8H394.6L377.6 848.3Z"/>
<path d="M337.3 874.3H371.3L354.3 844.8Z"/>
<path d="M314.0 873.0H348.0L331.0 843.5Z"/>
<path d="M290.3 874.3H324.3L307.3 844.8Z"/>
<path d="M1391.3 348.5H1425.3L1408.3 319.0Z"/>
<path d="M1414.6 347.0H1448.6L1431.6 317.5Z"/>
<path d="M1039.6 469.7H1073.6L1056.6 440.2Z"/>
<path d="M1062.9 482.5H1096.9L1079.9 453.0Z"/>
<path d="M1086.2 500.7H1120.2L1103.2 471.2Z"/>
<path d="M1180.5 429.4H1214.5L1197.5 399.9Z"/>
<path d="M1203.8 449.4H1237.8L1220.8 419.9Z"/>
<path d="M1227.6 454.5H1261.6L1244.6 425.0Z"/>
<path d="M1250.9 458.7H1284.9L1267.9 429.2Z"/>
<path d="M1274.2 451.0H1308.2L1291.2 421.5Z"/>
<path d="M1297.5 445.7H1331.5L1314.5 416.2Z"/>
<path d="M1436.8 341.0H1470.8L1453.8 311.5Z"/>
<path d="M1461.2 341.0H1495.2L1478.2 311.5Z"/>
<path d="M1484.5 370.2H1518.5L1501.5 340.7Z"/>
<path d="M1509.0 397.0H1543.0L1526.0 367.5Z"/>
<path d="M1531.1 529.0H1565.1L1548.1 499.5Z"/>
<path d="M1554.4 529.0H1588.4L1571.4 499.5Z"/>
<path d="M1578.9 540.0H1612.9L1595.9 510.5Z"/>
<path d="M1602.2 548.0H1636.2L1619.2 518.5Z"/>
<path d="M1625.4 560.5H1659.4L1642.4 531.0Z"/>
<path d="M1648.7 572.2H1682.7L1665.7 542.7Z"/>
<path d="M1672.0 576.8H1706.0L1689.0 547.3Z"/>
<path d="M1695.3 570.5H1729.3L1712.3 541.0Z"/>
<path d="M1719.3 515.6H1753.3L1736.3 486.1Z"/>
<path d="M1741.9 511.6H1775.9L1758.9 482.1Z"/>
<path d="M1765.9 482.5H1799.9L1782.9 453.0Z"/>
<path d="M1788.5 511.6H1822.5L1805.5 482.1Z"/>
<path d="M1812.2 526.7H1846.2L1829.2 497.2Z"/>
<path d="M1835.8 579.8H1869.8L1852.8 550.3Z"/>
<path d="M1858.8 605.5H1892.8L1875.8 576.0Z"/>
<path d="M1882.8 592.7H1916.8L1899.8 563.2Z"/>
<path d="M1906.1 600.8H1940.1L1923.1 571.3Z"/>
<path d="M1929.9 616.4H1963.9L1946.9 586.9Z"/>
<path d="M1953.2 609.4H1987.2L1970.2 579.9Z"/>
<path d="M1976.5 609.4H2010.5L1993.5 579.9Z"/>
<path d="M1999.3 620.0H2033.3L2016.3 590.5Z"/>
<path d="M2023.0 621.0H2057.0L2040.0 591.5Z"/>
<path d="M2046.4 625.7H2080.4L2063.4 596.2Z"/>
<path d="M2069.6 627.4H2103.6L2086.6 597.9Z"/>
<path d="M2093.6 620.0H2127.6L2110.6 590.5Z"/>
<path d="M2116.9 618.7H2150.9L2133.9 589.2Z"/>
<path d="M2140.9 611.8H2174.9L2157.9 582.3Z"/>
<path d="M2164.2 607.0H2198.2L2181.2 577.5Z"/>
<path d="M2210.8 599.0H2244.8L2227.8 569.5Z"/>
<path d="M2234.1 600.1H2268.1L2251.1 570.6Z"/>
<path d="M2257.8 600.1H2291.8L2274.8 570.6Z"/>
<path d="M2281.1 600.1H2315.1L2298.1 570.6Z"/>
<path d="M2539.0 480.9H2573.0L2556.0 451.4Z"/>
<path d="M2304.4 860.0H2338.4L2321.4 830.5Z"/>
<path d="M2327.7 860.0H2361.7L2344.7 830.5Z"/>
<path d="M2631.7 502.3H2665.7L2648.7 472.8Z"/>
<path d="M2679.0 553.5H2713.0L2696.0 524.0Z"/>
<path d="M2702.3 562.8H2736.3L2719.3 533.3Z"/>
<path d="M2726.0 554.7H2760.0L2743.0 525.2Z"/>
<path d="M2936.8 532.6H2970.8L2953.8 503.1Z"/>
<path d="M2960.1 544.2H2994.1L2977.1 514.7Z"/>
<path d="M2983.4 541.2H3017.4L3000.4 511.7Z"/>
<path d="M3006.7 535.6H3040.7L3023.7 506.1Z"/>
<path d="M3030.0 846.3H3064.0L3047.0 816.8Z"/>
<path d="M3053.3 846.3H3087.3L3070.3 816.8Z"/>
<path d="M618.3 981.0H652.3L635.3 951.5Z"/>
<path d="M641.2 981.0H675.2L658.2 951.5Z"/>
<path d="M687.7 981.0H721.7L704.7 951.5Z"/>
<path d="M992.0 981.0H1026.0L1009.0 951.5Z"/>
<path d="M1015.0 981.0H1049.0L1032.0 951.5Z"/>
<path d="M1320.5 981.0H1354.5L1337.5 951.5Z"/>
<path d="M1367.0 981.0H1401.0L1384.0 951.5Z"/>
<path d="M2795.8 981.0H2829.8L2812.8 951.5Z"/>
<path d="M2819.5 981.0H2853.5L2836.5 951.5Z"/>
<path d="M3382.0 981.0H3416.0L3399.0 951.5Z"/>
<path d="M3405.3 981.0H3439.3L3422.3 951.5Z"/>
<path d="M3429.0 981.0H3463.0L3446.0 951.5Z"/>
<path d="M3452.0 981.0H3486.0L3469.0 951.5Z"/>
<path d="M3475.6 981.0H3509.6L3492.6 951.5Z"/>
<path d="M3498.4 981.0H3532.4L3515.4 951.5Z"/>
<path d="M3522.0 981.0H3556.0L3539.0 951.5Z"/>
<path d="M3545.4 981.0H3579.4L3562.4 951.5Z"/>
<path d="M3569.0 981.0H3603.0L3586.0 951.5Z"/>
<path d="M3592.0 981.0H3626.0L3609.0 951.5Z"/>
<path d="M3615.7 981.0H3649.7L3632.7 951.5Z"/>
<path d="M1511.7 468.0H1537.9L1524.8 490.6Z" fill="none" stroke="#ff0000" stroke-width="4.6"/>
<path d="M2144.8 825.3H2171.0L2157.9 847.9Z" fill="none" stroke="#ff0000" stroke-width="4.6"/>
<path d="M2168.1 819.5H2194.3L2181.2 842.1Z" fill="none" stroke="#ff0000" stroke-width="4.6"/>
<path d="M2191.4 817.2H2217.6L2204.5 839.8Z" fill="none" stroke="#ff0000" stroke-width="4.6"/>
<path d="M2214.7 808.6H2240.9L2227.8 831.2Z" fill="none" stroke="#ff0000" stroke-width="4.6"/>
<path d="M2238.0 804.4H2264.2L2251.1 827.0Z" fill="none" stroke="#ff0000" stroke-width="4.6"/>
<path d="M2261.7 797.4H2287.9L2274.8 820.0Z" fill="none" stroke="#ff0000" stroke-width="4.6"/>
<path d="M2285.0 795.5H2311.2L2298.1 818.1Z" fill="none" stroke="#ff0000" stroke-width="4.6"/>
<path d="M2940.7 810.2H2966.9L2953.8 832.8Z" fill="none" stroke="#ff0000" stroke-width="4.6"/>
<path d="M2964.0 810.2H2990.2L2977.1 832.8Z" fill="none" stroke="#ff0000" stroke-width="4.6"/>
<path d="M2987.3 810.2H3013.5L3000.4 832.8Z" fill="none" stroke="#ff0000" stroke-width="4.6"/>
<path d="M3010.6 806.7H3036.8L3023.7 829.3Z" fill="none" stroke="#ff0000" stroke-width="4.6"/>
<path d="M1511.7 525.6H1537.9L1524.8 503.0Z" fill="none" stroke="#ff0000" stroke-width="4.6"/>
<path d="M2144.8 865.0H2171.0L2157.9 842.4Z" fill="none" stroke="#ff0000" stroke-width="4.6"/>
<path d="M2168.1 859.2H2194.3L2181.2 836.6Z" fill="none" stroke="#ff0000" stroke-width="4.6"/>
<path d="M2191.4 859.2H2217.6L2204.5 836.6Z" fill="none" stroke="#ff0000" stroke-width="4.6"/>
<path d="M2214.7 859.2H2240.9L2227.8 836.6Z" fill="none" stroke="#ff0000" stroke-width="4.6"/>
<path d="M2238.0 867.3H2264.2L2251.1 844.7Z" fill="none" stroke="#ff0000" stroke-width="4.6"/>
<path d="M2261.7 865.0H2287.9L2274.8 842.4Z" fill="none" stroke="#ff0000" stroke-width="4.6"/>
<path d="M2285.0 862.7H2311.2L2298.1 840.1Z" fill="none" stroke="#ff0000" stroke-width="4.6"/>
<path d="M2940.7 849.9H2966.9L2953.8 827.3Z" fill="none" stroke="#ff0000" stroke-width="4.6"/>
<path d="M2964.0 849.9H2990.2L2977.1 827.3Z" fill="none" stroke="#ff0000" stroke-width="4.6"/>
<path d="M2987.3 849.9H3013.5L3000.4 827.3Z" fill="none" stroke="#ff0000" stroke-width="4.6"/>
<path d="M3010.6 851.0H3036.8L3023.7 828.4Z" fill="none" stroke="#ff0000" stroke-width="4.6"/>
</g>
<path d="M307.3 588.5V598.5M280.8 588.5H333.8M280.8 598.5H333.8" stroke="#32cd32" stroke-width="3.8" fill="none"/>
<circle cx="307.3" cy="593.5" r="17.0" fill="#32cd32"/>
<path d="M330.6 592.0V602.0M304.1 592.0H357.1M304.1 602.0H357.1" stroke="#32cd32" stroke-width="3.8" fill="none"/>
<circle cx="330.6" cy="597.0" r="17.0" fill="#32cd32"/>
<path d="M400.9 570.2V580.2M374.4 570.2H427.4M374.4 580.2H427.4" stroke="#32cd32" stroke-width="3.8" fill="none"/>
<circle cx="400.9" cy="575.2" r="17.0" fill="#32cd32"/>
<path d="M424.2 573.9V583.9M397.7 573.9H450.7M397.7 583.9H450.7" stroke="#32cd32" stroke-width="3.8" fill="none"/>
<circle cx="424.2" cy="578.9" r="17.0" fill="#32cd32"/>
<path d="M541.8 570.2V580.2M515.3 570.2H568.3M515.3 580.2H568.3" stroke="#32cd32" stroke-width="3.8" fill="none"/>
<circle cx="541.8" cy="575.2" r="17.0" fill="#32cd32"/>
<path d="M705.6 519.8V602.0M679.1 519.8H732.1M679.1 602.0H732.1" stroke="#32cd32" stroke-width="3.8" fill="none"/>
<circle cx="705.6" cy="561.2" r="17.0" fill="#32cd32"/>
<path d="M775.9 488.8V519.8M749.4 488.8H802.4M749.4 519.8H802.4" stroke="#32cd32" stroke-width="3.8" fill="none"/>
<circle cx="775.9" cy="503.0" r="17.0" fill="#32cd32"/>
<path d="M822.5 526.0V553.5M796.0 526.0H849.0M796.0 553.5H849.0" stroke="#32cd32" stroke-width="3.8" fill="none"/>
<circle cx="822.5" cy="539.5" r="17.0" fill="#32cd32"/>
<path d="M845.8 515.0V565.6M819.3 515.0H872.3M819.3 565.6H872.3" stroke="#32cd32" stroke-width="3.8" fill="none"/>
<circle cx="845.8" cy="552.4" r="17.0" fill="#32cd32"/>
<path d="M682.3 628.8V732.2M655.8 628.8H708.8M655.8 732.2H708.8" stroke="#32cd32" stroke-width="3.8" fill="none"/>
<circle cx="682.3" cy="679.8" r="17.0" fill="#32cd32"/>
<path d="M659.0 675.1V735.0M632.5 675.1H685.5M632.5 735.0H685.5" stroke="#32cd32" stroke-width="3.8" fill="none"/>
<circle cx="659.0" cy="705.4" r="17.0" fill="#32cd32"/>
<path d="M752.2 674.0V705.9M725.7 674.0H778.7M725.7 705.9H778.7" stroke="#32cd32" stroke-width="3.8" fill="none"/>
<circle cx="752.2" cy="689.8" r="17.0" fill="#32cd32"/>
<path d="M892.9 489.5V518.6M866.4 489.5H919.4M866.4 518.6H919.4" stroke="#32cd32" stroke-width="3.8" fill="none"/>
<circle cx="892.9" cy="503.4" r="17.0" fill="#32cd32"/>
<path d="M869.1 514.6V544.7M842.6 514.6H895.6M842.6 544.7H895.6" stroke="#32cd32" stroke-width="3.8" fill="none"/>
<circle cx="869.1" cy="531.0" r="17.0" fill="#32cd32"/>
<path d="M916.2 611.8V636.9M889.7 611.8H942.7M889.7 636.9H942.7" stroke="#32cd32" stroke-width="3.8" fill="none"/>
<circle cx="916.2" cy="623.4" r="17.0" fill="#32cd32"/>
<path d="M1033.3 511.6V717.8M1006.8 511.6H1059.8M1006.8 717.8H1059.8" stroke="#32cd32" stroke-width="3.8" fill="none"/>
<circle cx="1033.3" cy="614.1" r="17.0" fill="#32cd32"/>
<path d="M1197.5 472.7V719.9M1171.0 472.7H1224.0M1171.0 719.9H1224.0" stroke="#32cd32" stroke-width="3.8" fill="none"/>
<circle cx="1197.5" cy="595.5" r="17.0" fill="#32cd32"/>
<path d="M963.0 660.0V787.0M936.5 660.0H989.5M936.5 787.0H989.5" stroke="#32cd32" stroke-width="3.8" fill="none"/>
<circle cx="963.0" cy="723.4" r="17.0" fill="#32cd32"/>
<path d="M1010.0 760.6V842.8M983.5 760.6H1036.5M983.5 842.8H1036.5" stroke="#32cd32" stroke-width="3.8" fill="none"/>
<circle cx="1010.0" cy="801.4" r="17.0" fill="#32cd32"/>
<path d="M1079.9 720.6V851.7M1053.4 720.6H1106.4M1053.4 851.7H1106.4" stroke="#32cd32" stroke-width="3.8" fill="none"/>
<circle cx="1079.9" cy="785.8" r="17.0" fill="#32cd32"/>
<path d="M1103.7 791.6V837.7M1077.2 791.6H1130.2M1077.2 837.7H1130.2" stroke="#32cd32" stroke-width="3.8" fill="none"/>
<circle cx="1103.7" cy="814.9" r="17.0" fill="#32cd32"/>
<path d="M1056.6 814.9V865.7M1030.1 814.9H1083.1M1030.1 865.7H1083.1" stroke="#32cd32" stroke-width="3.8" fill="none"/>
<circle cx="1056.6" cy="840.0" r="17.0" fill="#32cd32"/>
<path d="M1287.2 689.1V718.7M1260.7 689.1H1313.7M1260.7 718.7H1313.7" stroke="#32cd32" stroke-width="3.8" fill="none"/>
<circle cx="1287.2" cy="703.1" r="17.0" fill="#32cd32"/>
<path d="M1314.0 689.1V711.7M1287.5 689.1H1340.5M1287.5 711.7H1340.5" stroke="#32cd32" stroke-width="3.8" fill="none"/>
<circle cx="1314.0" cy="700.8" r="17.0" fill="#32cd32"/>
<path d="M1220.8 781.6V903.9M1194.3 781.6H1247.3M1194.3 903.9H1247.3" stroke="#32cd32" stroke-width="3.8" fill="none"/>
<circle cx="1220.8" cy="842.8" r="17.0" fill="#32cd32"/>
<path d="M1244.1 801.6V915.0M1217.6 801.6H1270.6M1217.6 915.0H1270.6" stroke="#32cd32" stroke-width="3.8" fill="none"/>
<circle cx="1244.1" cy="858.0" r="17.0" fill="#32cd32"/>
<path d="M1267.4 795.8V815.6M1240.9 795.8H1293.9M1240.9 815.6H1293.9" stroke="#32cd32" stroke-width="3.8" fill="none"/>
<circle cx="1267.4" cy="805.6" r="17.0" fill="#32cd32"/>
<path d="M1337.7 760.6V834.7M1311.2 760.6H1364.2M1311.2 834.7H1364.2" stroke="#32cd32" stroke-width="3.8" fill="none"/>
<circle cx="1337.7" cy="798.1" r="17.0" fill="#32cd32"/>
<path d="M1478.2 448.7V500.0M1451.7 448.7H1504.7M1451.7 500.0H1504.7" stroke="#32cd32" stroke-width="3.8" fill="none"/>
<circle cx="1478.2" cy="473.2" r="17.0" fill="#32cd32"/>
<path d="M1597.0 535.0V562.8M1570.5 535.0H1623.5M1570.5 562.8H1623.5" stroke="#32cd32" stroke-width="3.8" fill="none"/>
<circle cx="1597.0" cy="546.5" r="17.0" fill="#32cd32"/>
<path d="M1618.7 568.3V578.3M1592.2 568.3H1645.2M1592.2 578.3H1645.2" stroke="#32cd32" stroke-width="3.8" fill="none"/>
<circle cx="1618.7" cy="573.3" r="17.0" fill="#32cd32"/>
<path d="M1455.0 734.9V744.9M1428.5 734.9H1481.5M1428.5 744.9H1481.5" stroke="#32cd32" stroke-width="3.8" fill="none"/>
<circle cx="1455.0" cy="739.9" r="17.0" fill="#32cd32"/>
<path d="M1524.8 728.0V756.7M1498.3 728.0H1551.3M1498.3 756.7H1551.3" stroke="#32cd32" stroke-width="3.8" fill="none"/>
<circle cx="1524.8" cy="741.5" r="17.0" fill="#32cd32"/>
<path d="M1642.4 714.3V729.9M1615.9 714.3H1668.9M1615.9 729.9H1668.9" stroke="#32cd32" stroke-width="3.8" fill="none"/>
<circle cx="1642.4" cy="721.7" r="17.0" fill="#32cd32"/>
<path d="M1665.7 701.9V716.6M1639.2 701.9H1692.2M1639.2 716.6H1692.2" stroke="#32cd32" stroke-width="3.8" fill="none"/>
<circle cx="1665.7" cy="709.6" r="17.0" fill="#32cd32"/>
<path d="M1806.0 710.0V725.2M1779.5 710.0H1832.5M1779.5 725.2H1832.5" stroke="#32cd32" stroke-width="3.8" fill="none"/>
<circle cx="1806.0" cy="718.2" r="17.0" fill="#32cd32"/>
<path d="M1828.8 719.9V735.0M1802.3 719.9H1855.3M1802.3 735.0H1855.3" stroke="#32cd32" stroke-width="3.8" fill="none"/>
<circle cx="1828.8" cy="727.1" r="17.0" fill="#32cd32"/>
<path d="M1736.0 790.1V800.1M1709.5 790.1H1762.5M1709.5 800.1H1762.5" stroke="#32cd32" stroke-width="3.8" fill="none"/>
<circle cx="1736.0" cy="795.1" r="17.0" fill="#32cd32"/>
<path d="M1712.3 806.4V816.4M1685.8 806.4H1738.8M1685.8 816.4H1738.8" stroke="#32cd32" stroke-width="3.8" fill="none"/>
<circle cx="1712.3" cy="811.4" r="17.0" fill="#32cd32"/>
<path d="M1758.9 811.1V821.1M1732.4 811.1H1785.4M1732.4 821.1H1785.4" stroke="#32cd32" stroke-width="3.8" fill="none"/>
<circle cx="1758.9" cy="816.1" r="17.0" fill="#32cd32"/>
<path d="M1782.7 805.2V815.2M1756.2 805.2H1809.2M1756.2 815.2H1809.2" stroke="#32cd32" stroke-width="3.8" fill="none"/>
<circle cx="1782.7" cy="810.2" r="17.0" fill="#32cd32"/>
<path d="M1689.0 835.2V847.5M1662.5 835.2H1715.5M1662.5 847.5H1715.5" stroke="#32cd32" stroke-width="3.8" fill="none"/>
<circle cx="1689.0" cy="841.7" r="17.0" fill="#32cd32"/>
<path d="M2181.7 551.2V603.1M2155.2 551.2H2208.2M2155.2 603.1H2208.2" stroke="#32cd32" stroke-width="3.8" fill="none"/>
<circle cx="2181.7" cy="575.7" r="17.0" fill="#32cd32"/>
<path d="M2344.3 733.0V743.0M2317.8 733.0H2370.8M2317.8 743.0H2370.8" stroke="#32cd32" stroke-width="3.8" fill="none"/>
<circle cx="2344.3" cy="738.0" r="17.0" fill="#32cd32"/>
<path d="M2462.3 777.3V787.3M2435.8 777.3H2488.8M2435.8 787.3H2488.8" stroke="#32cd32" stroke-width="3.8" fill="none"/>
<circle cx="2462.3" cy="782.3" r="17.0" fill="#32cd32"/>
<path d="M2485.6 768.7V778.7M2459.1 768.7H2512.1M2459.1 778.7H2512.1" stroke="#32cd32" stroke-width="3.8" fill="none"/>
<circle cx="2485.6" cy="773.7" r="17.0" fill="#32cd32"/>
<path d="M2555.5 782.6V792.6M2529.0 782.6H2582.0M2529.0 792.6H2582.0" stroke="#32cd32" stroke-width="3.8" fill="none"/>
<circle cx="2555.5" cy="787.6" r="17.0" fill="#32cd32"/>
<path d="M2602.6 773.8V783.8M2576.1 773.8H2629.1M2576.1 783.8H2629.1" stroke="#32cd32" stroke-width="3.8" fill="none"/>
<circle cx="2602.6" cy="778.8" r="17.0" fill="#32cd32"/>
<path d="M2789.2 784.6V811.9M2762.7 784.6H2815.7M2762.7 811.9H2815.7" stroke="#32cd32" stroke-width="3.8" fill="none"/>
<circle cx="2789.2" cy="798.6" r="17.0" fill="#32cd32"/>
<path d="M2813.6 800.6V810.6M2787.1 800.6H2840.1M2787.1 810.6H2840.1" stroke="#32cd32" stroke-width="3.8" fill="none"/>
<circle cx="2813.6" cy="805.6" r="17.0" fill="#32cd32"/>
<path d="M2837.0 802.0V834.2M2810.5 802.0H2863.5M2810.5 834.2H2863.5" stroke="#32cd32" stroke-width="3.8" fill="none"/>
<circle cx="2837.0" cy="813.7" r="17.0" fill="#32cd32"/>
<path d="M2860.2 813.4V823.4M2833.7 813.4H2886.7M2833.7 823.4H2886.7" stroke="#32cd32" stroke-width="3.8" fill="none"/>
<circle cx="2860.2" cy="818.4" r="17.0" fill="#32cd32"/>
<path d="M2883.5 829.7V839.7M2857.0 829.7H2910.0M2857.0 839.7H2910.0" stroke="#32cd32" stroke-width="3.8" fill="none"/>
<circle cx="2883.5" cy="834.7" r="17.0" fill="#32cd32"/>
<path d="M2907.3 820.8V830.8M2880.8 820.8H2933.8M2880.8 830.8H2933.8" stroke="#32cd32" stroke-width="3.8" fill="none"/>
<circle cx="2907.3" cy="825.8" r="17.0" fill="#32cd32"/>
<path d="M2930.1 789.6V799.6M2903.6 789.6H2956.6M2903.6 799.6H2956.6" stroke="#32cd32" stroke-width="3.8" fill="none"/>
<circle cx="2930.1" cy="794.6" r="17.0" fill="#32cd32"/>
<path d="M2953.8 770.3V780.3M2927.3 770.3H2980.3M2927.3 780.3H2980.3" stroke="#32cd32" stroke-width="3.8" fill="none"/>
<circle cx="2953.8" cy="775.3" r="17.0" fill="#32cd32"/>
<path d="M2977.1 769.6V779.6M2950.6 769.6H3003.6M2950.6 779.6H3003.6" stroke="#32cd32" stroke-width="3.8" fill="none"/>
<circle cx="2977.1" cy="774.6" r="17.0" fill="#32cd32"/>
<path d="M3000.9 758.7V768.7M2974.4 758.7H3027.4M2974.4 768.7H3027.4" stroke="#32cd32" stroke-width="3.8" fill="none"/>
<circle cx="3000.9" cy="763.7" r="17.0" fill="#32cd32"/>
<path d="M3047.5 763.3V773.3M3021.0 763.3H3074.0M3021.0 773.3H3074.0" stroke="#32cd32" stroke-width="3.8" fill="none"/>
<circle cx="3047.5" cy="768.3" r="17.0" fill="#32cd32"/>
<path d="M3070.8 785.4V795.4M3044.3 785.4H3097.3M3044.3 795.4H3097.3" stroke="#32cd32" stroke-width="3.8" fill="none"/>
<circle cx="3070.8" cy="790.4" r="17.0" fill="#32cd32"/>
<path d="M3094.0 780.8V790.8M3067.5 780.8H3120.5M3067.5 790.8H3120.5" stroke="#32cd32" stroke-width="3.8" fill="none"/>
<circle cx="3094.0" cy="785.8" r="17.0" fill="#32cd32"/>
<path d="M3117.4 787.8V797.8M3090.9 787.8H3143.9M3090.9 797.8H3143.9" stroke="#32cd32" stroke-width="3.8" fill="none"/>
<circle cx="3117.4" cy="792.8" r="17.0" fill="#32cd32"/>
<path d="M3140.6 779.6V789.6M3114.1 779.6H3167.1M3114.1 789.6H3167.1" stroke="#32cd32" stroke-width="3.8" fill="none"/>
<circle cx="3140.6" cy="784.6" r="17.0" fill="#32cd32"/>
<path d="M3163.9 772.6V782.6M3137.4 772.6H3190.4M3137.4 782.6H3190.4" stroke="#32cd32" stroke-width="3.8" fill="none"/>
<circle cx="3163.9" cy="777.6" r="17.0" fill="#32cd32"/>
<path d="M3188.0 774.0V784.0M3161.5 774.0H3214.5M3161.5 784.0H3214.5" stroke="#32cd32" stroke-width="3.8" fill="none"/>
<circle cx="3188.0" cy="779.0" r="17.0" fill="#32cd32"/>
<path d="M3211.4 700.4V710.4M3184.9 700.4H3237.9M3184.9 710.4H3237.9" stroke="#32cd32" stroke-width="3.8" fill="none"/>
<circle cx="3211.4" cy="705.4" r="17.0" fill="#32cd32"/>
<path d="M3234.7 697.5V707.5M3208.2 697.5H3261.2M3208.2 707.5H3261.2" stroke="#32cd32" stroke-width="3.8" fill="none"/>
<circle cx="3234.7" cy="702.5" r="17.0" fill="#32cd32"/>
<path d="M3258.6 699.4V709.4M3232.1 699.4H3285.1M3232.1 709.4H3285.1" stroke="#32cd32" stroke-width="3.8" fill="none"/>
<circle cx="3258.6" cy="704.4" r="17.0" fill="#32cd32"/>
<path d="M3539.0 555.0V704.8M3512.5 555.0H3565.5M3512.5 704.8H3565.5" stroke="#32cd32" stroke-width="3.8" fill="none"/>
<circle cx="3539.0" cy="630.2" r="17.0" fill="#32cd32"/>
<path d="M3492.5 718.8V762.0M3466.0 718.8H3519.0M3466.0 762.0H3519.0" stroke="#32cd32" stroke-width="3.8" fill="none"/>
<circle cx="3492.5" cy="740.2" r="17.0" fill="#32cd32"/>
<path d="M3422.0 759.5V846.8M3395.5 759.5H3448.5M3395.5 846.8H3448.5" stroke="#32cd32" stroke-width="3.8" fill="none"/>
<circle cx="3422.0" cy="803.2" r="17.0" fill="#32cd32"/>
<path d="M3398.7 706.7V943.9M3372.2 706.7H3425.2M3372.2 943.9H3425.2" stroke="#32cd32" stroke-width="3.8" fill="none"/>
<circle cx="3398.7" cy="824.5" r="17.0" fill="#32cd32"/>
<path d="M3562.4 803.0V813.0M3535.9 803.0H3588.9M3535.9 813.0H3588.9" stroke="#32cd32" stroke-width="3.8" fill="none"/>
<circle cx="3562.4" cy="808.0" r="17.0" fill="#32cd32"/>
<path d="M3586.0 858.5V896.0M3559.5 858.5H3612.5M3559.5 896.0H3612.5" stroke="#32cd32" stroke-width="3.8" fill="none"/>
<circle cx="3586.0" cy="877.9" r="17.0" fill="#32cd32"/>
<path d="M3610.3 829.8V874.0M3583.8 829.8H3636.8M3583.8 874.0H3636.8" stroke="#32cd32" stroke-width="3.8" fill="none"/>
<circle cx="3610.3" cy="851.7" r="17.0" fill="#32cd32"/>
<path d="M3629.7 825.3V835.3M3603.2 825.3H3656.2M3603.2 835.3H3656.2" stroke="#32cd32" stroke-width="3.8" fill="none"/>
<circle cx="3629.7" cy="830.3" r="17.0" fill="#32cd32"/>
<path d="M1431.0 697.7V713.6M1404.5 697.7H1457.5M1404.5 713.6H1457.5" stroke="#32cd32" stroke-width="3.8" fill="none"/>
<circle cx="1431.0" cy="705.4" r="17.0" fill="#32cd32"/>
<path d="M2011.6 650.7V698.4M1985.1 650.7H2038.1M1985.1 698.4H2038.1" stroke="#32cd32" stroke-width="3.8" fill="none"/>
<circle cx="2011.6" cy="674.0" r="14.5" fill="#fff" stroke="#32cd32" stroke-width="5"/>
<path d="M729.1 310.7V438.9M702.6 310.7H755.6M702.6 438.9H755.6" stroke="#0000ff" stroke-width="3.8" fill="none"/>
<circle cx="729.1" cy="374.6" r="17.0" fill="#0000ff"/>
<path d="M799.0 342.0V421.8M772.5 342.0H825.5M772.5 421.8H825.5" stroke="#0000ff" stroke-width="3.8" fill="none"/>
<circle cx="799.0" cy="382.0" r="17.0" fill="#0000ff"/>
<path d="M354.3 490.5V500.5M327.8 490.5H380.8M327.8 500.5H380.8" stroke="#0000ff" stroke-width="3.8" fill="none"/>
<circle cx="354.3" cy="495.5" r="17.0" fill="#0000ff"/>
<path d="M377.5 512.6V522.6M351.0 512.6H404.0M351.0 522.6H404.0" stroke="#0000ff" stroke-width="3.8" fill="none"/>
<circle cx="377.5" cy="517.6" r="17.0" fill="#0000ff"/>
<path d="M471.4 501.1V511.1M444.9 501.1H497.9M444.9 511.1H497.9" stroke="#0000ff" stroke-width="3.8" fill="none"/>
<circle cx="471.4" cy="506.1" r="17.0" fill="#0000ff"/>
<path d="M447.5 522.2V532.2M421.0 522.2H474.0M421.0 532.2H474.0" stroke="#0000ff" stroke-width="3.8" fill="none"/>
<circle cx="447.5" cy="527.2" r="17.0" fill="#0000ff"/>
<path d="M518.2 491.1V539.1M491.7 491.1H544.7M491.7 539.1H544.7" stroke="#0000ff" stroke-width="3.8" fill="none"/>
<circle cx="518.2" cy="515.1" r="17.0" fill="#0000ff"/>
<path d="M494.7 587.3V597.3M468.2 587.3H521.2M468.2 597.3H521.2" stroke="#0000ff" stroke-width="3.8" fill="none"/>
<circle cx="494.7" cy="592.3" r="17.0" fill="#0000ff"/>
<path d="M635.5 727.6V737.6M609.0 727.6H662.0M609.0 737.6H662.0" stroke="#0000ff" stroke-width="3.8" fill="none"/>
<circle cx="635.5" cy="732.6" r="17.0" fill="#0000ff"/>
<path d="M1408.3 210.6V293.8M1381.8 210.6H1434.8M1381.8 293.8H1434.8" stroke="#0000ff" stroke-width="3.8" fill="none"/>
<circle cx="1408.3" cy="252.6" r="17.0" fill="#0000ff"/>
<path d="M1384.6 389.8V455.7M1358.1 389.8H1411.1M1358.1 455.7H1411.1" stroke="#0000ff" stroke-width="3.8" fill="none"/>
<circle cx="1384.6" cy="423.1" r="17.0" fill="#0000ff"/>
<path d="M1501.5 100.0V329.4M1475.0 100.0H1528.0M1475.0 329.4H1528.0" stroke="#0000ff" stroke-width="3.8" fill="none"/>
<circle cx="1501.5" cy="204.1" r="17.0" fill="#0000ff"/>
<path d="M1572.6 303.8V409.1M1546.1 303.8H1599.1M1546.1 409.1H1599.1" stroke="#0000ff" stroke-width="3.8" fill="none"/>
<circle cx="1572.6" cy="355.5" r="17.0" fill="#0000ff"/>
<path d="M1548.1 337.6V427.7M1521.6 337.6H1574.6M1521.6 427.7H1574.6" stroke="#0000ff" stroke-width="3.8" fill="none"/>
<circle cx="1548.1" cy="383.3" r="17.0" fill="#0000ff"/>
<path d="M1876.5 346.4V425.4M1850.0 346.4H1903.0M1850.0 425.4H1903.0" stroke="#0000ff" stroke-width="3.8" fill="none"/>
<circle cx="1876.5" cy="386.0" r="17.0" fill="#0000ff"/>
<path d="M1852.8 413.8V487.6M1826.3 413.8H1879.3M1826.3 487.6H1879.3" stroke="#0000ff" stroke-width="3.8" fill="none"/>
<circle cx="1852.8" cy="451.0" r="17.0" fill="#0000ff"/>
<path d="M1899.4 406.4V444.0M1872.9 406.4H1925.9M1872.9 444.0H1925.9" stroke="#0000ff" stroke-width="3.8" fill="none"/>
<circle cx="1899.4" cy="411.4" r="17.0" fill="#0000ff"/>
<path d="M1923.1 374.8V452.2M1896.6 374.8H1949.6M1896.6 452.2H1949.6" stroke="#0000ff" stroke-width="3.8" fill="none"/>
<circle cx="1923.1" cy="413.8" r="17.0" fill="#0000ff"/>
<path d="M1947.1 434.4V444.4M1920.6 434.4H1973.6M1920.6 444.4H1973.6" stroke="#0000ff" stroke-width="3.8" fill="none"/>
<circle cx="1947.1" cy="439.4" r="17.0" fill="#0000ff"/>
<path d="M1969.7 461.6V471.6M1943.2 461.6H1996.2M1943.2 471.6H1996.2" stroke="#0000ff" stroke-width="3.8" fill="none"/>
<circle cx="1969.7" cy="466.6" r="17.0" fill="#0000ff"/>
<path d="M1993.5 526.7V554.2M1967.0 526.7H2020.0M1967.0 554.2H2020.0" stroke="#0000ff" stroke-width="3.8" fill="none"/>
<circle cx="1993.5" cy="540.7" r="17.0" fill="#0000ff"/>
<path d="M2040.8 482.5V501.6M2014.3 482.5H2067.3M2014.3 501.6H2067.3" stroke="#0000ff" stroke-width="3.8" fill="none"/>
<circle cx="2040.8" cy="491.8" r="17.0" fill="#0000ff"/>
<path d="M2064.0 475.2V485.2M2037.5 475.2H2090.5M2037.5 485.2H2090.5" stroke="#0000ff" stroke-width="3.8" fill="none"/>
<circle cx="2064.0" cy="480.2" r="17.0" fill="#0000ff"/>
<path d="M2086.6 493.0V512.1M2060.1 493.0H2113.1M2060.1 512.1H2113.1" stroke="#0000ff" stroke-width="3.8" fill="none"/>
<circle cx="2086.6" cy="501.6" r="17.0" fill="#0000ff"/>
<path d="M2110.6 553.5V573.3M2084.1 553.5H2137.1M2084.1 573.3H2137.1" stroke="#0000ff" stroke-width="3.8" fill="none"/>
<circle cx="2110.6" cy="564.0" r="17.0" fill="#0000ff"/>
<path d="M2134.0 564.0V589.6M2107.5 564.0H2160.5M2107.5 589.6H2160.5" stroke="#0000ff" stroke-width="3.8" fill="none"/>
<circle cx="2134.0" cy="575.7" r="17.0" fill="#0000ff"/>
<path d="M2157.9 563.7V573.7M2131.4 563.7H2184.4M2131.4 573.7H2184.4" stroke="#0000ff" stroke-width="3.8" fill="none"/>
<circle cx="2157.9" cy="568.7" r="17.0" fill="#0000ff"/>
<path d="M2204.5 583.8V635.0M2178.0 583.8H2231.0M2178.0 635.0H2231.0" stroke="#0000ff" stroke-width="3.8" fill="none"/>
<circle cx="2204.5" cy="609.4" r="17.0" fill="#0000ff"/>
<path d="M2227.8 654.8V693.8M2201.3 654.8H2254.3M2201.3 693.8H2254.3" stroke="#0000ff" stroke-width="3.8" fill="none"/>
<circle cx="2227.8" cy="673.5" r="17.0" fill="#0000ff"/>
<path d="M2298.1 659.6V669.6M2271.6 659.6H2324.6M2271.6 669.6H2324.6" stroke="#0000ff" stroke-width="3.8" fill="none"/>
<circle cx="2298.1" cy="664.6" r="17.0" fill="#0000ff"/>
<path d="M2274.8 686.8V695.0M2248.3 686.8H2301.3M2248.3 695.0H2301.3" stroke="#0000ff" stroke-width="3.8" fill="none"/>
<circle cx="2274.8" cy="690.3" r="17.0" fill="#0000ff"/>
<path d="M2251.1 701.6V711.6M2224.6 701.6H2277.6M2224.6 711.6H2277.6" stroke="#0000ff" stroke-width="3.8" fill="none"/>
<circle cx="2251.1" cy="706.6" r="17.0" fill="#0000ff"/>
<path d="M2321.0 683.8V721.7M2294.5 683.8H2347.5M2294.5 721.7H2347.5" stroke="#0000ff" stroke-width="3.8" fill="none"/>
<circle cx="2321.0" cy="703.1" r="17.0" fill="#0000ff"/>
<path d="M2532.2 696.9V706.9M2505.7 696.9H2558.7M2505.7 706.9H2558.7" stroke="#0000ff" stroke-width="3.8" fill="none"/>
<circle cx="2532.2" cy="701.9" r="17.0" fill="#0000ff"/>
<path d="M2719.8 484.8V622.2M2693.3 484.8H2746.3M2693.3 622.2H2746.3" stroke="#0000ff" stroke-width="3.8" fill="none"/>
<circle cx="2719.8" cy="553.5" r="17.0" fill="#0000ff"/>
<path d="M2743.0 469.7V617.6M2716.5 469.7H2769.5M2716.5 617.6H2769.5" stroke="#0000ff" stroke-width="3.8" fill="none"/>
<circle cx="2743.0" cy="543.0" r="17.0" fill="#0000ff"/>
<path d="M2696.0 608.7V657.6M2669.5 608.7H2722.5M2669.5 657.6H2722.5" stroke="#0000ff" stroke-width="3.8" fill="none"/>
<circle cx="2696.0" cy="633.4" r="17.0" fill="#0000ff"/>
<path d="M2625.9 685.6V708.9M2599.4 685.6H2652.4M2599.4 708.9H2652.4" stroke="#0000ff" stroke-width="3.8" fill="none"/>
<circle cx="2625.9" cy="696.8" r="17.0" fill="#0000ff"/>
<path d="M2649.2 761.0V771.0M2622.7 761.0H2675.7M2622.7 771.0H2675.7" stroke="#0000ff" stroke-width="3.8" fill="none"/>
<circle cx="2649.2" cy="766.0" r="17.0" fill="#0000ff"/>
<path d="M3024.2 691.9V729.9M2997.7 691.9H3050.7M2997.7 729.9H3050.7" stroke="#0000ff" stroke-width="3.8" fill="none"/>
<circle cx="3024.2" cy="710.8" r="17.0" fill="#0000ff"/>
<path d="M3304.6 776.8V786.8M3278.1 776.8H3331.1M3278.1 786.8H3331.1" stroke="#0000ff" stroke-width="3.8" fill="none"/>
<circle cx="3304.6" cy="781.8" r="17.0" fill="#0000ff"/>
<path d="M3445.3 760.9V795.4M3418.8 760.9H3471.8M3418.8 795.4H3471.8" stroke="#0000ff" stroke-width="3.8" fill="none"/>
<circle cx="3445.3" cy="778.9" r="17.0" fill="#0000ff"/>
<path d="M3468.6 756.4V766.4M3442.1 756.4H3495.1M3442.1 766.4H3495.1" stroke="#0000ff" stroke-width="3.8" fill="none"/>
<circle cx="3468.6" cy="761.4" r="17.0" fill="#0000ff"/>
<path d="M3515.8 778.8V788.8M3489.3 778.8H3542.3M3489.3 788.8H3542.3" stroke="#0000ff" stroke-width="3.8" fill="none"/>
<circle cx="3515.8" cy="783.8" r="17.0" fill="#0000ff"/>
<path d="M2014.0 320.1V371.0M1987.5 320.1H2040.5M1987.5 371.0H2040.5" stroke="#0000ff" stroke-width="3.8" fill="none"/>
<circle cx="2014.0" cy="344.6" r="14.5" fill="#fff" stroke="#0000ff" stroke-width="5"/>
<g fill="none" stroke="#000" stroke-width="4.2" stroke-linejoin="miter">
<path d="M266.0 317.3L446.0 317.5L446.0 318.3L540.0 318.3L540.0 319.0L626.0 319.0L626.0 320.4L860.0 320.6L1055.0 320.8L1055.0 319.4L1187.0 319.4L1187.0 320.8L1317.0 320.8L1317.0 322.4L1394.0 322.4L1394.0 323.5L1476.0 327.0L1559.7 330.6L1564.4 330.8M1665.7 332.5L1711.0 334.8L1783.4 337.1L1902.0 338.7L2000.0 339.9L2067.5 342.2L2128.0 343.0L2205.0 343.9L2300.5 344.6L2396.0 345.7L2514.8 346.9L2556.7 348.3L2580.0 348.3L3160.0 358.8L3381.3 363.1L3636.5 371.8"/>
<path d="M266.0 503.0L353.0 505.5L523.0 509.5L663.0 512.5L749.0 515.0L860.0 518.5L942.5 521.0L1089.0 524.8L1231.0 528.5L1392.0 532.3L1420.0 533.0L1439.8 534.2L1487.5 535.6L1527.0 536.5L1563.0 537.2M1665.7 538.9L1711.0 539.8L1783.4 540.7L1853.0 541.9L1925.4 543.0L2000.0 543.7L2030.3 544.7L2121.0 546.5L2216.6 548.2L2277.2 549.6L2340.0 550.5L2412.3 551.7L2486.8 552.8L2561.3 554.0L2580.0 554.0L2785.0 557.0L2950.3 562.8L3160.0 566.6L3365.7 570.9L3466.7 573.0L3636.5 574.3"/>
<path d="M266.0 845.2L286.0 843.5L341.0 842.4L409.0 841.2L458.0 840.1L511.0 839.4L663.0 839.4L663.0 838.4L726.0 838.4L726.0 839.8L989.0 839.8L1012.4 841.2L1054.3 844.0L1114.8 846.3L1196.4 849.1L1236.0 850.5L1420.0 850.0L1445.6 851.5L1563.2 851.5M1665.7 850.5L1851.0 851.3L1932.4 853.0L2020.0 855.3L2077.0 857.0L2198.0 857.0L2349.4 856.0L2442.5 855.2L2960.0 855.2L3011.0 856.8L3092.4 859.1L3162.3 860.3L3367.7 861.0L3635.5 861.8"/>
<path d="M267.0 926.7L309.0 927.8L360.0 929.7L470.0 929.7L470.0 930.6L521.0 930.6L521.0 932.0L737.0 932.0L737.0 933.7L860.0 933.7L865.6 934.8L1047.0 933.0L1271.0 934.8L1361.7 936.5L1527.0 936.0L1563.0 937.6M1665.7 941.8L1804.3 941.8L1862.6 938.3L1944.0 933.7L2010.0 932.5L2109.5 931.4L2358.7 932.0L2500.8 930.2L2580.0 931.4L2840.9 932.0L2952.7 933.7L3045.8 934.8L3139.0 935.5L3625.8 936.1L3636.0 936.5"/>
</g>
<g style="font-family:'Liberation Sans',Arial,sans-serif" font-size="58.5" text-anchor="middle" fill="#000">
<text transform="translate(1614.6,330.6) rotate(1.8)" x="0" y="20.9">230</text>
<text transform="translate(1614.6,537.4) rotate(1.8)" x="0" y="20.9">250</text>
<text transform="translate(1614.6,851.8) rotate(-0.3)" x="0" y="20.9">273</text>
<text transform="translate(1614.6,939.2) rotate(2.0)" x="0" y="20.9">279</text>
</g></g>
<g stroke="#000" stroke-width="5.5" fill="none">
<path d="M266 108.5V956.5H3640" stroke-linecap="butt"/>
<path d="M266 112.0H347"/>
<path d="M266 217.6H347"/>
<path d="M266 323.2H347"/>
<path d="M266 428.8H347"/>
<path d="M266 534.4H347"/>
<path d="M266 640.0H347"/>
<path d="M266 745.6H347"/>
<path d="M266 851.2H347"/>
<path d="M266 956.8H347"/>
<path d="M266.0 956.5V895"/>
<path d="M336.2 956.5V924"/>
<path d="M406.4 956.5V924"/>
<path d="M476.7 956.5V924"/>
<path d="M546.9 956.5V895"/>
<path d="M617.1 956.5V924"/>
<path d="M687.3 956.5V924"/>
<path d="M757.6 956.5V924"/>
<path d="M827.8 956.5V895"/>
<path d="M898.0 956.5V924"/>
<path d="M968.2 956.5V924"/>
<path d="M1038.5 956.5V924"/>
<path d="M1108.7 956.5V895"/>
<path d="M1178.9 956.5V924"/>
<path d="M1249.1 956.5V924"/>
<path d="M1319.4 956.5V924"/>
<path d="M1389.6 956.5V895"/>
<path d="M1459.8 956.5V924"/>
<path d="M1530.0 956.5V924"/>
<path d="M1600.3 956.5V924"/>
<path d="M1670.5 956.5V895"/>
<path d="M1740.7 956.5V924"/>
<path d="M1810.9 956.5V924"/>
<path d="M1881.2 956.5V924"/>
<path d="M1951.4 956.5V895"/>
<path d="M2021.6 956.5V924"/>
<path d="M2091.8 956.5V924"/>
<path d="M2162.1 956.5V924"/>
<path d="M2232.3 956.5V895"/>
<path d="M2302.5 956.5V924"/>
<path d="M2372.8 956.5V924"/>
<path d="M2443.0 956.5V924"/>
<path d="M2513.2 956.5V895"/>
<path d="M2583.4 956.5V924"/>
<path d="M2653.6 956.5V924"/>
<path d="M2723.9 956.5V924"/>
<path d="M2794.1 956.5V895"/>
<path d="M2864.3 956.5V924"/>
<path d="M2934.5 956.5V924"/>
<path d="M3004.8 956.5V924"/>
<path d="M3075.0 956.5V895"/>
<path d="M3145.2 956.5V924"/>
<path d="M3215.4 956.5V924"/>
<path d="M3285.7 956.5V924"/>
<path d="M3355.9 956.5V895"/>
<path d="M3426.1 956.5V924"/>
<path d="M3496.3 956.5V924"/>
<path d="M3566.6 956.5V924"/>
<path d="M3636.8 956.5V895"/>
</g>
<g style="font-family:'DejaVu Sans','Liberation Sans',sans-serif" font-size="66.6" text-anchor="end" fill="#000">
<text x="232.4" y="136.0">12.0</text>
<text x="232.4" y="241.6">10.5</text>
<text x="232.4" y="347.2">9.04</text>
<text x="232.4" y="452.8">7.56</text>
<text x="232.4" y="558.4">6.08</text>
<text x="232.4" y="664.0">4.60</text>
<text x="232.4" y="769.6">3.11</text>
<text x="232.4" y="875.2">1.63</text>
<text x="232.4" y="980.8">0.15</text>
</g>
<g style="font-family:'DejaVu Sans','Liberation Sans',sans-serif" font-size="74.7" text-anchor="middle" fill="#000">
<text x="266.0" y="1037">0</text>
<text x="546.9" y="1037">2</text>
<text x="827.8" y="1037">4</text>
<text x="1108.7" y="1037">6</text>
<text x="1389.6" y="1037">8</text>
<text x="1670.5" y="1037">10</text>
<text x="1951.4" y="1037">12</text>
<text x="2232.3" y="1037">14</text>
<text x="2513.2" y="1037">16</text>
<text x="2794.1" y="1037">18</text>
<text x="3075.0" y="1037">20</text>
<text x="3355.9" y="1037">22</text>
<text x="3636.8" y="1037">24</text>
</g>
<text style="font-family:'DejaVu Sans','Liberation Sans',sans-serif" font-size="76" x="1741.6" y="1116.7">Time (UTC)</text>
<text style="font-family:'DejaVu Sans','Liberation Sans',sans-serif" font-size="66.4" transform="translate(35.3,833.5) rotate(-90)">Height AMSL (km)</text>
<text x="1478.7" y="77.7" style="font-family:'Liberation Sans',Arial,sans-serif" font-size="100.6">Norunda: 2025/10/26</text>
<defs><linearGradient id="cb" x1="0" x2="1" y1="0" y2="0"><stop offset="0" stop-color="#ffffff"/><stop offset="0.3333" stop-color="#ffb6c1"/><stop offset="0.6667" stop-color="#00ffff"/><stop offset="1" stop-color="#d3d3d3"/></linearGradient></defs>
<rect x="266" y="1144" width="3371" height="54" fill="url(#cb)"/>
<g stroke="#000" stroke-width="5.5" fill="none">
<path d="M266 1199.8H3640"/>
<path d="M266.0 1199.8V1183"/>
<path d="M378.4 1199.8V1190"/>
<path d="M490.7 1199.8V1190"/>
<path d="M603.1 1199.8V1190"/>
<path d="M715.5 1199.8V1190"/>
<path d="M827.8 1199.8V1190"/>
<path d="M940.2 1199.8V1190"/>
<path d="M1052.6 1199.8V1190"/>
<path d="M1164.9 1199.8V1190"/>
<path d="M1277.3 1199.8V1190"/>
<path d="M1389.7 1199.8V1183"/>
<path d="M1502.0 1199.8V1190"/>
<path d="M1614.4 1199.8V1190"/>
<path d="M1726.8 1199.8V1190"/>
<path d="M1839.1 1199.8V1190"/>
<path d="M1951.5 1199.8V1190"/>
<path d="M2063.9 1199.8V1190"/>
<path d="M2176.2 1199.8V1190"/>
<path d="M2288.6 1199.8V1190"/>
<path d="M2401.0 1199.8V1190"/>
<path d="M2513.3 1199.8V1183"/>
<path d="M2625.7 1199.8V1190"/>
<path d="M2738.1 1199.8V1190"/>
<path d="M2850.4 1199.8V1190"/>
<path d="M2962.8 1199.8V1190"/>
<path d="M3075.2 1199.8V1190"/>
<path d="M3187.5 1199.8V1190"/>
<path d="M3299.9 1199.8V1190"/>
<path d="M3412.3 1199.8V1190"/>
<path d="M3524.6 1199.8V1190"/>
<path d="M3637.0 1199.8V1183"/>
</g>
<g style="font-family:'DejaVu Sans','Liberation Sans',sans-serif" font-size="58.8" fill="#000">
<text x="180.0" y="1261">Clear</text>
<text x="1301.6" y="1261">Water</text>
<text x="2471.3" y="1261">Ice</text>
<text x="3554.0" y="1261">Other</text>
</g>
<g fill="none" stroke="#000" stroke-width="5">
<rect x="248.8" y="1313.2" width="651.5" height="247"/>
<rect x="1066.5" y="1313.2" width="545" height="140.6"/>
<rect x="2327.5" y="1313" width="560.4" height="401.5"/>
</g>
<g style="font-family:'DejaVu Sans','Liberation Sans',sans-serif" font-size="58" fill="#000">
<text x="327.8" y="1405.2">FCI-OCA SL Wat</text>
<text x="327.8" y="1502">OCA High Err Wat</text>
<text x="1144.7" y="1405.2">FCI-OCA SL Ice</text>
<text x="2403.5" y="1406.0">ACTRIS CBH</text>
<text x="2403.5" y="1492.5">ACTRIS CTH</text>
<text x="2403.5" y="1579.0">ACTRIS CBH BL</text>
<text x="2403.5" y="1665.5">ACTRIS CTH BL</text>
</g>
<circle cx="287" cy="1383.5" r="17" fill="#32cd32"/>
<path d="M271 1464L303 1496M303 1464L271 1496" stroke="#32cd32" stroke-width="5.6"/>
<circle cx="1103.4" cy="1383.5" r="17" fill="#0000ff"/>
<path d="M2347.8 1393.5H2382L2364.9 1364Z" fill="#ff0000"/>
<path d="M2347.8 1459.8H2382L2364.9 1489.3Z" fill="#ff0000"/>
<path d="M2351.8 1564.4H2378L2364.9 1541.5Z" fill="none" stroke="#ff0000" stroke-width="4.6"/>
<path d="M2351.8 1635H2378L2364.9 1657.9Z" fill="none" stroke="#ff0000" stroke-width="4.6"/>
</svg>
</body></html>
